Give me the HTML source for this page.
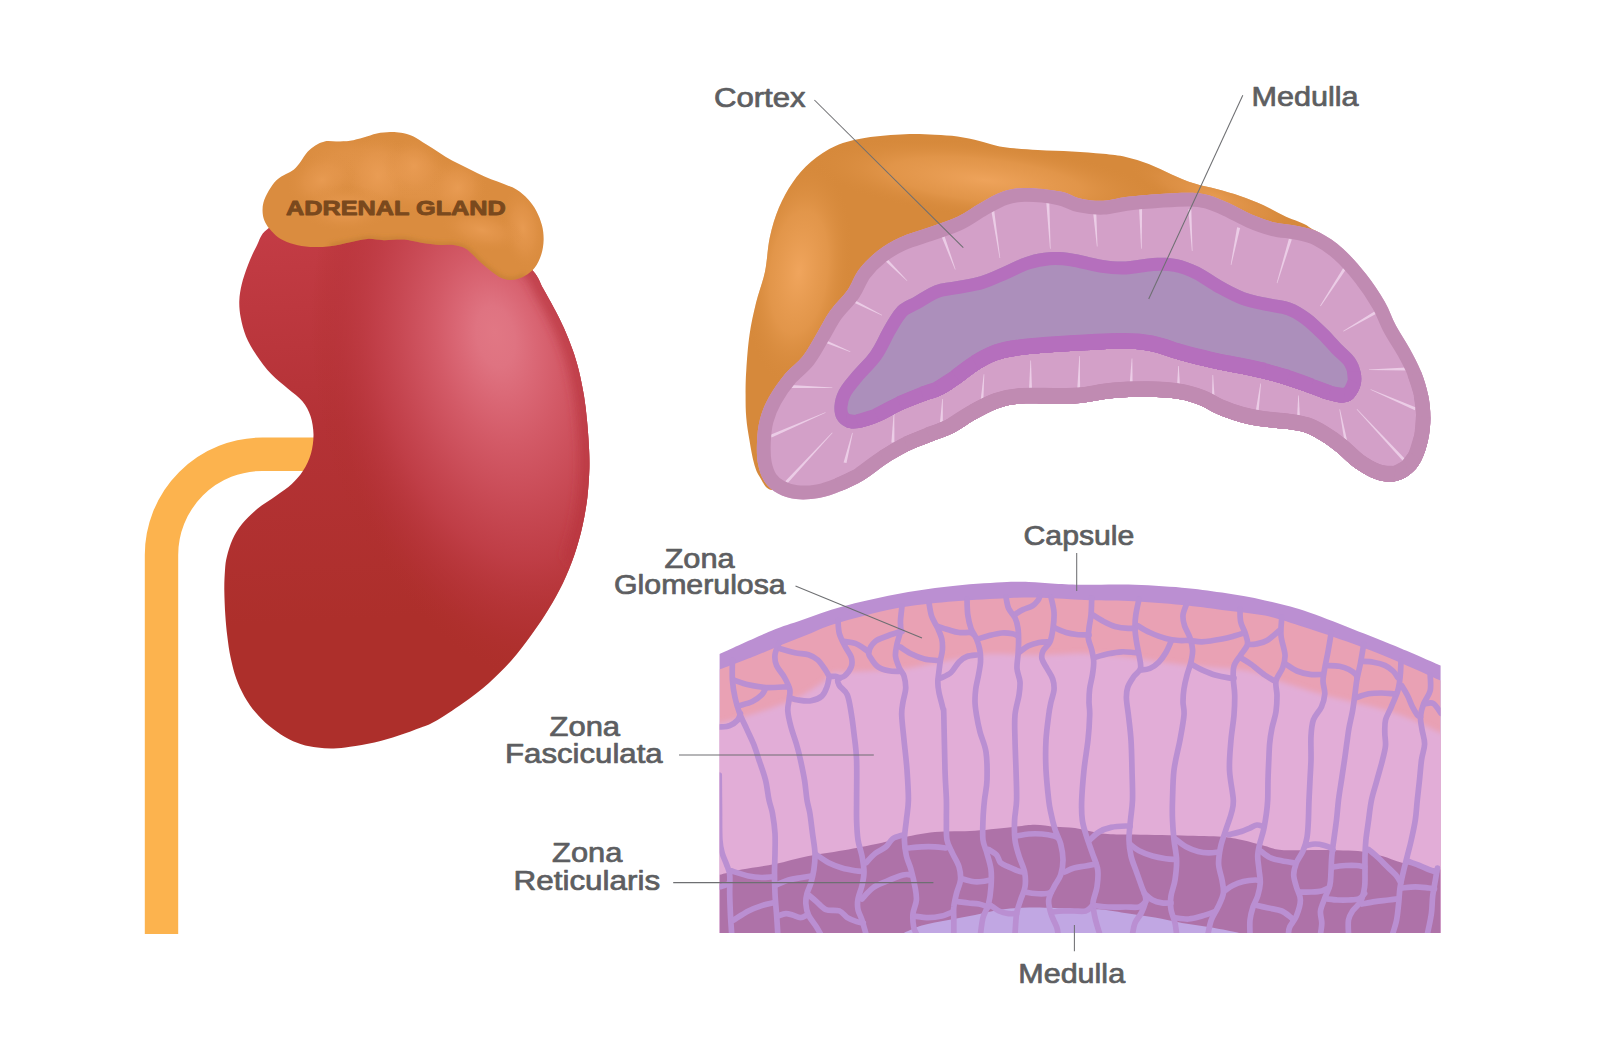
<!DOCTYPE html>
<html lang="en">
<head>
<meta charset="utf-8">
<title>Adrenal gland anatomy</title>
<style>
html,body{margin:0;padding:0;background:#ffffff;}
body{width:1600px;height:1048px;overflow:hidden;font-family:"Liberation Sans",sans-serif;}
svg{display:block;position:absolute;left:0;top:0;}
text{font-family:"Liberation Sans",sans-serif;}
</style>
</head>
<body>
<svg width="1600" height="1048" viewBox="0 0 1600 1048">
<defs>
<linearGradient id="kidBase" gradientUnits="userSpaceOnUse" x1="330" y1="225" x2="350" y2="620">
<stop offset="0" stop-color="#c33c45"/><stop offset="0.5" stop-color="#b43236"/><stop offset="1" stop-color="#ad2f2b"/>
</linearGradient>
<radialGradient id="kidHi" gradientUnits="userSpaceOnUse" cx="0" cy="0" r="1" fx="-0.17" fy="0" gradientTransform="translate(505.5 382) rotate(78) scale(305 188)">
<stop offset="0" stop-color="#e17784"/>
<stop offset="0.1" stop-color="#df7381"/>
<stop offset="0.2" stop-color="#da6775"/>
<stop offset="0.32" stop-color="#d35a67"/>
<stop offset="0.45" stop-color="#cc4f5b" stop-opacity="0.97"/>
<stop offset="0.65" stop-color="#c2404a" stop-opacity="0.85"/>
<stop offset="0.85" stop-color="#b7343a" stop-opacity="0.45"/>
<stop offset="1" stop-color="#ae2f2b" stop-opacity="0"/>
</radialGradient>
<radialGradient id="adrH0" gradientUnits="userSpaceOnUse" cx="0" cy="0" r="1" gradientTransform="translate(378 176) rotate(5) scale(34 44)"><stop offset="0" stop-color="#eb9e56" stop-opacity="0.8"/><stop offset="0.5" stop-color="#e6984f" stop-opacity="0.5"/><stop offset="1" stop-color="#db8d40" stop-opacity="0"/></radialGradient>
<radialGradient id="adrH1" gradientUnits="userSpaceOnUse" cx="0" cy="0" r="1" gradientTransform="translate(322 180) rotate(-20) scale(36 28)"><stop offset="0" stop-color="#eb9e56" stop-opacity="0.8"/><stop offset="0.5" stop-color="#e6984f" stop-opacity="0.5"/><stop offset="1" stop-color="#db8d40" stop-opacity="0"/></radialGradient>
<radialGradient id="adrH2" gradientUnits="userSpaceOnUse" cx="0" cy="0" r="1" gradientTransform="translate(458 188) rotate(25) scale(28 32)"><stop offset="0" stop-color="#eb9e56" stop-opacity="0.8"/><stop offset="0.5" stop-color="#e6984f" stop-opacity="0.5"/><stop offset="1" stop-color="#db8d40" stop-opacity="0"/></radialGradient>
<radialGradient id="adrH3" gradientUnits="userSpaceOnUse" cx="0" cy="0" r="1" gradientTransform="translate(523 228) rotate(-8) scale(22 42)"><stop offset="0" stop-color="#eb9e56" stop-opacity="0.8"/><stop offset="0.5" stop-color="#e6984f" stop-opacity="0.5"/><stop offset="1" stop-color="#db8d40" stop-opacity="0"/></radialGradient>
<radialGradient id="adrH4" gradientUnits="userSpaceOnUse" cx="0" cy="0" r="1" gradientTransform="translate(414 166) rotate(0) scale(30 30)"><stop offset="0" stop-color="#eb9e56" stop-opacity="0.8"/><stop offset="0.5" stop-color="#e6984f" stop-opacity="0.5"/><stop offset="1" stop-color="#db8d40" stop-opacity="0"/></radialGradient>
<radialGradient id="adrH5" gradientUnits="userSpaceOnUse" cx="0" cy="0" r="1" gradientTransform="translate(345 208) rotate(0) scale(46 24)"><stop offset="0" stop-color="#eb9e56" stop-opacity="0.8"/><stop offset="0.5" stop-color="#e6984f" stop-opacity="0.5"/><stop offset="1" stop-color="#db8d40" stop-opacity="0"/></radialGradient>
<radialGradient id="adrH6" gradientUnits="userSpaceOnUse" cx="0" cy="0" r="1" gradientTransform="translate(482 230) rotate(12) scale(42 20)"><stop offset="0" stop-color="#eb9e56" stop-opacity="0.8"/><stop offset="0.5" stop-color="#e6984f" stop-opacity="0.5"/><stop offset="1" stop-color="#db8d40" stop-opacity="0"/></radialGradient>
<radialGradient id="adrBroad" gradientUnits="userSpaceOnUse" cx="0" cy="0" r="1" gradientTransform="translate(392 174) rotate(13) scale(105 34)"><stop offset="0" stop-color="#ea9d55" stop-opacity="0.7"/><stop offset="0.6" stop-color="#e5974e" stop-opacity="0.45"/><stop offset="1" stop-color="#db8d40" stop-opacity="0"/></radialGradient>
<filter id="blur3" filterUnits="userSpaceOnUse" x="240" y="110" width="330" height="200"><feGaussianBlur stdDeviation="2.2"/></filter>
<filter id="blur6" filterUnits="userSpaceOnUse" x="200" y="180" width="420" height="600"><feGaussianBlur stdDeviation="5"/></filter>
<clipPath id="kidClip"><path d="M267.0 229.4C274.2 224.0 281.2 217.6 300.0 214.0C318.8 210.4 353.3 206.3 380.0 208.0C406.7 209.7 438.3 217.0 460.0 224.0C481.7 231.0 497.8 242.1 510.0 250.0C522.2 257.9 528.0 265.1 533.5 271.5C539.0 277.9 539.7 282.4 543.0 288.3C546.3 294.2 550.0 300.6 553.5 307.2C557.0 313.8 560.9 321.2 564.0 328.2C567.1 335.2 569.9 342.2 572.4 349.2C574.9 356.2 576.8 362.3 578.7 370.0C580.6 377.7 582.5 386.9 583.9 395.3C585.3 403.7 586.2 412.1 587.0 420.5C587.8 428.9 588.5 437.7 588.9 445.7C589.3 453.7 589.6 460.0 589.4 468.6C589.1 477.2 588.5 487.7 587.4 497.2C586.2 506.7 584.6 516.2 582.5 525.8C580.4 535.3 577.8 545.0 574.5 554.5C571.2 564.0 567.3 574.0 563.0 583.0C558.7 592.0 554.0 600.2 548.8 608.8C543.6 617.4 537.8 626.0 531.6 634.6C525.4 643.2 518.8 652.2 511.6 660.3C504.5 668.4 496.8 676.1 488.7 683.2C480.6 690.4 472.0 696.8 462.9 703.2C453.8 709.6 441.3 717.8 434.3 721.8C427.3 725.8 426.9 725.2 421.0 727.5C415.1 729.8 406.5 733.0 398.7 735.5C390.9 738.0 382.5 740.6 374.4 742.5C366.3 744.4 356.8 745.7 350.0 746.7C343.2 747.7 339.1 748.2 333.7 748.4C328.3 748.5 322.9 748.3 317.5 747.6C312.1 746.9 306.6 746.1 301.2 744.3C295.8 742.5 290.4 740.1 285.0 737.0C279.6 733.9 273.6 729.7 268.7 725.6C263.8 721.5 259.8 717.5 255.7 712.6C251.6 707.7 247.7 702.1 244.4 696.4C241.2 690.7 238.5 685.0 236.2 678.5C233.9 672.0 232.1 664.4 230.6 657.4C229.1 650.4 228.2 643.3 227.3 636.2C226.4 629.1 225.8 622.7 225.3 615.0C224.8 607.3 224.4 597.5 224.3 590.0C224.2 582.5 224.6 575.6 225.0 570.0C225.4 564.4 225.6 561.6 226.9 556.5C228.2 551.4 230.1 544.7 232.6 539.3C235.1 533.9 237.9 529.1 242.0 524.0C246.1 518.9 251.6 513.6 257.4 508.8C263.1 504.0 270.8 499.5 276.5 495.4C282.2 491.3 287.4 488.1 291.8 484.0C296.2 479.9 300.0 475.7 303.2 470.6C306.4 465.5 309.3 459.4 311.0 453.4C312.7 447.4 313.6 440.6 313.5 434.4C313.4 428.2 312.3 421.5 310.5 416.0C308.7 410.5 306.4 405.9 302.6 401.4C298.9 396.9 293.2 393.4 288.0 388.8C282.8 384.2 276.4 379.6 271.2 374.0C265.9 368.4 260.7 361.5 256.5 355.2C252.3 348.9 248.6 342.7 246.0 336.4C243.4 330.1 241.8 323.4 240.7 317.5C239.6 311.6 239.1 306.3 239.3 300.7C239.5 295.1 240.4 289.9 241.8 284.0C243.2 278.1 245.6 271.3 248.0 265.0C250.4 258.7 253.3 252.1 256.5 246.2C259.7 240.3 259.8 234.8 267.0 229.4Z"/></clipPath>
<clipPath id="adrClip"><path d="M390.2 132.0C386.2 132.1 381.3 132.5 376.9 133.4C372.4 134.3 367.9 136.2 363.5 137.4C359.1 138.6 354.6 140.0 350.2 140.7C345.8 141.4 341.0 141.3 336.8 141.4C332.6 141.5 328.4 140.7 324.8 141.4C321.2 142.1 318.3 143.6 315.4 145.4C312.5 147.2 309.8 149.3 307.4 152.0C305.0 154.7 303.0 158.5 300.8 161.4C298.6 164.3 296.5 167.3 294.0 169.4C291.5 171.5 288.9 172.2 286.0 174.0C283.1 175.8 279.6 177.2 276.7 180.0C273.8 182.8 270.9 187.0 268.7 190.8C266.5 194.6 264.4 199.0 263.4 202.8C262.4 206.6 262.4 210.2 262.7 213.5C263.0 216.8 263.9 219.9 265.4 222.8C266.8 225.7 268.8 228.2 271.4 230.9C273.9 233.6 276.9 236.7 280.7 238.9C284.5 241.1 289.1 242.9 294.0 244.2C298.9 245.5 304.0 246.6 310.0 246.9C316.0 247.2 323.3 247.0 330.0 246.2C336.7 245.4 343.9 243.4 350.2 242.2C356.4 241.0 361.9 239.2 367.5 238.9C373.1 238.6 378.2 240.1 383.6 240.2C389.0 240.3 395.9 239.5 400.0 239.5C404.1 239.5 403.9 239.4 408.0 240.0C412.1 240.6 418.9 242.5 424.3 243.3C429.7 244.1 435.7 244.7 440.6 245.0C445.5 245.3 449.4 244.5 453.5 245.0C457.6 245.5 461.8 246.6 465.0 248.2C468.2 249.8 470.3 252.3 473.0 254.7C475.7 257.1 478.0 260.1 481.0 262.8C484.0 265.5 487.4 268.3 490.9 270.9C494.4 273.5 498.4 276.7 502.2 278.2C506.0 279.7 509.8 280.2 513.6 279.8C517.4 279.4 521.5 277.8 525.0 275.8C528.5 273.8 532.0 271.2 534.7 267.7C537.4 264.2 539.7 259.3 541.2 254.7C542.7 250.1 543.5 244.9 543.6 240.0C543.7 235.1 543.2 230.3 542.0 225.5C540.8 220.7 538.6 215.2 536.3 210.9C534.0 206.6 531.5 203.0 528.2 199.5C525.0 196.0 520.8 192.4 516.8 189.8C512.8 187.2 508.2 185.8 503.9 184.0C499.6 182.2 495.3 180.9 491.0 179.2C486.7 177.4 482.3 175.5 478.0 173.5C473.7 171.5 469.3 169.2 465.0 167.0C460.7 164.8 456.3 163.0 452.0 160.6C447.7 158.2 443.3 155.2 439.0 152.5C434.7 149.8 430.3 147.0 426.0 144.3C421.7 141.6 417.2 138.1 413.0 136.2C408.8 134.3 404.8 133.5 401.0 132.8C397.2 132.1 394.2 131.9 390.2 132.0Z"/></clipPath>
</defs>
<path d="M161.5 934V555A100.8 100.8 0 0 1 262.3 454.2H330" fill="none" stroke="#fcb34e" stroke-width="33.4"/>
<path d="M267.0 229.4C274.2 224.0 281.2 217.6 300.0 214.0C318.8 210.4 353.3 206.3 380.0 208.0C406.7 209.7 438.3 217.0 460.0 224.0C481.7 231.0 497.8 242.1 510.0 250.0C522.2 257.9 528.0 265.1 533.5 271.5C539.0 277.9 539.7 282.4 543.0 288.3C546.3 294.2 550.0 300.6 553.5 307.2C557.0 313.8 560.9 321.2 564.0 328.2C567.1 335.2 569.9 342.2 572.4 349.2C574.9 356.2 576.8 362.3 578.7 370.0C580.6 377.7 582.5 386.9 583.9 395.3C585.3 403.7 586.2 412.1 587.0 420.5C587.8 428.9 588.5 437.7 588.9 445.7C589.3 453.7 589.6 460.0 589.4 468.6C589.1 477.2 588.5 487.7 587.4 497.2C586.2 506.7 584.6 516.2 582.5 525.8C580.4 535.3 577.8 545.0 574.5 554.5C571.2 564.0 567.3 574.0 563.0 583.0C558.7 592.0 554.0 600.2 548.8 608.8C543.6 617.4 537.8 626.0 531.6 634.6C525.4 643.2 518.8 652.2 511.6 660.3C504.5 668.4 496.8 676.1 488.7 683.2C480.6 690.4 472.0 696.8 462.9 703.2C453.8 709.6 441.3 717.8 434.3 721.8C427.3 725.8 426.9 725.2 421.0 727.5C415.1 729.8 406.5 733.0 398.7 735.5C390.9 738.0 382.5 740.6 374.4 742.5C366.3 744.4 356.8 745.7 350.0 746.7C343.2 747.7 339.1 748.2 333.7 748.4C328.3 748.5 322.9 748.3 317.5 747.6C312.1 746.9 306.6 746.1 301.2 744.3C295.8 742.5 290.4 740.1 285.0 737.0C279.6 733.9 273.6 729.7 268.7 725.6C263.8 721.5 259.8 717.5 255.7 712.6C251.6 707.7 247.7 702.1 244.4 696.4C241.2 690.7 238.5 685.0 236.2 678.5C233.9 672.0 232.1 664.4 230.6 657.4C229.1 650.4 228.2 643.3 227.3 636.2C226.4 629.1 225.8 622.7 225.3 615.0C224.8 607.3 224.4 597.5 224.3 590.0C224.2 582.5 224.6 575.6 225.0 570.0C225.4 564.4 225.6 561.6 226.9 556.5C228.2 551.4 230.1 544.7 232.6 539.3C235.1 533.9 237.9 529.1 242.0 524.0C246.1 518.9 251.6 513.6 257.4 508.8C263.1 504.0 270.8 499.5 276.5 495.4C282.2 491.3 287.4 488.1 291.8 484.0C296.2 479.9 300.0 475.7 303.2 470.6C306.4 465.5 309.3 459.4 311.0 453.4C312.7 447.4 313.6 440.6 313.5 434.4C313.4 428.2 312.3 421.5 310.5 416.0C308.7 410.5 306.4 405.9 302.6 401.4C298.9 396.9 293.2 393.4 288.0 388.8C282.8 384.2 276.4 379.6 271.2 374.0C265.9 368.4 260.7 361.5 256.5 355.2C252.3 348.9 248.6 342.7 246.0 336.4C243.4 330.1 241.8 323.4 240.7 317.5C239.6 311.6 239.1 306.3 239.3 300.7C239.5 295.1 240.4 289.9 241.8 284.0C243.2 278.1 245.6 271.3 248.0 265.0C250.4 258.7 253.3 252.1 256.5 246.2C259.7 240.3 259.8 234.8 267.0 229.4Z" fill="url(#kidBase)"/>
<g clip-path="url(#kidClip)"><rect x="200" y="180" width="420" height="600" fill="url(#kidHi)"/><path d="M510.0 250.0C513.9 253.6 528.0 265.1 533.5 271.5C539.0 277.9 539.7 282.4 543.0 288.3C546.3 294.2 550.0 300.6 553.5 307.2C557.0 313.8 560.9 321.2 564.0 328.2C567.1 335.2 569.9 342.2 572.4 349.2C574.9 356.2 576.8 362.3 578.7 370.0C580.6 377.7 582.5 386.9 583.9 395.3C585.3 403.7 586.2 412.1 587.0 420.5C587.8 428.9 588.5 437.7 588.9 445.7C589.3 453.7 589.6 460.0 589.4 468.6C589.1 477.2 588.5 487.7 587.4 497.2C586.2 506.7 584.6 516.2 582.5 525.8C580.4 535.3 575.8 549.7 574.5 554.5" fill="none" stroke="#b7343b" stroke-opacity="0.6" stroke-width="20" stroke-linecap="round" filter="url(#blur6)"/></g>
<path d="M390.2 132.0C386.2 132.1 381.3 132.5 376.9 133.4C372.4 134.3 367.9 136.2 363.5 137.4C359.1 138.6 354.6 140.0 350.2 140.7C345.8 141.4 341.0 141.3 336.8 141.4C332.6 141.5 328.4 140.7 324.8 141.4C321.2 142.1 318.3 143.6 315.4 145.4C312.5 147.2 309.8 149.3 307.4 152.0C305.0 154.7 303.0 158.5 300.8 161.4C298.6 164.3 296.5 167.3 294.0 169.4C291.5 171.5 288.9 172.2 286.0 174.0C283.1 175.8 279.6 177.2 276.7 180.0C273.8 182.8 270.9 187.0 268.7 190.8C266.5 194.6 264.4 199.0 263.4 202.8C262.4 206.6 262.4 210.2 262.7 213.5C263.0 216.8 263.9 219.9 265.4 222.8C266.8 225.7 268.8 228.2 271.4 230.9C273.9 233.6 276.9 236.7 280.7 238.9C284.5 241.1 289.1 242.9 294.0 244.2C298.9 245.5 304.0 246.6 310.0 246.9C316.0 247.2 323.3 247.0 330.0 246.2C336.7 245.4 343.9 243.4 350.2 242.2C356.4 241.0 361.9 239.2 367.5 238.9C373.1 238.6 378.2 240.1 383.6 240.2C389.0 240.3 395.9 239.5 400.0 239.5C404.1 239.5 403.9 239.4 408.0 240.0C412.1 240.6 418.9 242.5 424.3 243.3C429.7 244.1 435.7 244.7 440.6 245.0C445.5 245.3 449.4 244.5 453.5 245.0C457.6 245.5 461.8 246.6 465.0 248.2C468.2 249.8 470.3 252.3 473.0 254.7C475.7 257.1 478.0 260.1 481.0 262.8C484.0 265.5 487.4 268.3 490.9 270.9C494.4 273.5 498.4 276.7 502.2 278.2C506.0 279.7 509.8 280.2 513.6 279.8C517.4 279.4 521.5 277.8 525.0 275.8C528.5 273.8 532.0 271.2 534.7 267.7C537.4 264.2 539.7 259.3 541.2 254.7C542.7 250.1 543.5 244.9 543.6 240.0C543.7 235.1 543.2 230.3 542.0 225.5C540.8 220.7 538.6 215.2 536.3 210.9C534.0 206.6 531.5 203.0 528.2 199.5C525.0 196.0 520.8 192.4 516.8 189.8C512.8 187.2 508.2 185.8 503.9 184.0C499.6 182.2 495.3 180.9 491.0 179.2C486.7 177.4 482.3 175.5 478.0 173.5C473.7 171.5 469.3 169.2 465.0 167.0C460.7 164.8 456.3 163.0 452.0 160.6C447.7 158.2 443.3 155.2 439.0 152.5C434.7 149.8 430.3 147.0 426.0 144.3C421.7 141.6 417.2 138.1 413.0 136.2C408.8 134.3 404.8 133.5 401.0 132.8C397.2 132.1 394.2 131.9 390.2 132.0Z" fill="#da8c3f"/>
<g clip-path="url(#adrClip)"><rect x="240" y="110" width="320" height="190" fill="url(#adrBroad)"/><rect x="240" y="110" width="320" height="190" fill="url(#adrH0)"/><rect x="240" y="110" width="320" height="190" fill="url(#adrH1)"/><rect x="240" y="110" width="320" height="190" fill="url(#adrH2)"/><rect x="240" y="110" width="320" height="190" fill="url(#adrH3)"/><rect x="240" y="110" width="320" height="190" fill="url(#adrH4)"/><rect x="240" y="110" width="320" height="190" fill="url(#adrH5)"/><rect x="240" y="110" width="320" height="190" fill="url(#adrH6)"/><path d="M330.0 246.2C333.4 245.5 343.9 243.4 350.2 242.2C356.4 241.0 361.9 239.2 367.5 238.9C373.1 238.6 378.2 240.1 383.6 240.2C389.0 240.3 395.9 239.5 400.0 239.5C404.1 239.5 403.9 239.4 408.0 240.0C412.1 240.6 418.9 242.5 424.3 243.3C429.7 244.1 435.7 244.7 440.6 245.0C445.5 245.3 449.4 244.5 453.5 245.0C457.6 245.5 461.8 246.6 465.0 248.2C468.2 249.8 470.3 252.3 473.0 254.7C475.7 257.1 478.0 260.1 481.0 262.8C484.0 265.5 487.4 268.3 490.9 270.9C494.4 273.5 498.4 276.7 502.2 278.2C506.0 279.7 509.8 280.2 513.6 279.8C517.4 279.4 523.1 276.5 525.0 275.8" fill="none" stroke="#b9762f" stroke-opacity="0.55" stroke-width="5" filter="url(#blur3)"/></g>
<text x="285.9" y="215.1" font-size="20.6" font-weight="bold" fill="#7a491d" stroke="#7a491d" stroke-width="0.9" stroke-linejoin="round" textLength="220" lengthAdjust="spacingAndGlyphs">ADRENAL GLAND</text>
<defs>
<clipPath id="ctxClip"><path d="M757.0 442.0C757.3 434.5 758.0 426.5 760.0 419.0C762.0 411.5 764.8 404.5 769.0 397.0C773.2 389.5 779.3 380.8 785.0 374.0C790.7 367.2 797.8 362.7 803.0 356.0C808.2 349.3 812.0 341.5 816.5 334.0C821.0 326.5 824.8 318.3 830.0 311.0C835.2 303.7 842.8 296.9 847.6 290.0C852.4 283.1 854.0 276.0 859.0 269.5C864.0 263.0 870.6 256.4 877.4 251.0C884.2 245.7 891.2 241.4 900.0 237.4C908.8 233.4 920.4 230.4 930.0 227.0C939.6 223.6 949.1 220.8 957.5 216.8C965.9 212.8 972.8 207.2 980.4 203.0C988.0 198.8 995.4 194.1 1003.0 191.6C1010.6 189.1 1016.4 188.0 1026.0 188.0C1035.6 188.0 1051.6 189.8 1060.6 191.6C1069.6 193.3 1072.9 197.0 1080.0 198.5C1087.1 200.0 1095.4 201.1 1103.0 200.8C1110.6 200.6 1116.3 198.1 1125.8 197.0C1135.3 195.9 1149.3 194.7 1160.0 194.0C1170.7 193.3 1182.0 192.5 1190.0 192.7C1198.0 192.9 1201.5 193.3 1208.0 195.0C1214.5 196.7 1221.5 199.8 1228.8 203.0C1236.1 206.2 1244.1 211.2 1251.7 214.5C1259.3 217.8 1267.0 220.6 1274.6 222.5C1282.2 224.4 1289.9 224.3 1297.5 226.0C1305.1 227.7 1312.4 229.0 1320.0 232.8C1327.6 236.6 1335.3 241.9 1343.0 248.8C1350.7 255.7 1359.1 265.2 1366.0 274.0C1372.9 282.8 1379.6 292.9 1384.6 301.5C1389.6 310.1 1391.8 317.9 1396.0 325.8C1400.2 333.7 1405.5 341.1 1409.7 348.7C1413.9 356.3 1418.0 364.0 1421.0 371.6C1424.0 379.2 1426.4 386.9 1428.0 394.5C1429.6 402.1 1430.4 409.8 1430.4 417.4C1430.4 425.0 1429.6 433.0 1428.0 440.3C1426.4 447.6 1424.0 455.3 1421.0 461.0C1418.0 466.7 1414.2 471.2 1409.7 474.6C1405.2 478.0 1399.4 480.8 1393.7 481.5C1388.0 482.2 1381.9 481.3 1375.4 479.0C1368.9 476.7 1361.3 472.4 1354.8 467.8C1348.3 463.2 1342.2 456.3 1336.5 451.7C1330.8 447.1 1325.8 443.5 1320.4 440.3C1315.1 437.1 1310.1 434.2 1304.4 432.3C1298.7 430.4 1292.9 429.8 1286.0 428.8C1279.1 427.9 1270.7 427.7 1263.0 426.6C1255.3 425.5 1247.6 424.1 1240.0 422.0C1232.4 419.9 1224.2 416.9 1217.4 414.0C1210.6 411.1 1205.5 407.3 1199.0 404.8C1192.5 402.3 1186.9 400.3 1178.5 399.0C1170.1 397.7 1159.5 397.0 1148.7 396.8C1138.0 396.6 1125.5 397.0 1114.0 398.0C1102.5 399.0 1089.8 402.1 1080.0 403.0C1070.2 403.9 1064.8 403.4 1055.0 403.5C1045.2 403.6 1030.4 402.8 1021.0 403.5C1011.6 404.2 1006.3 405.4 998.8 408.0C991.3 410.6 983.5 414.9 976.0 419.0C968.5 423.1 961.3 429.0 953.8 432.8C946.3 436.6 938.5 438.8 931.0 441.8C923.5 444.8 916.3 447.1 908.8 450.8C901.3 454.5 893.5 459.1 886.0 464.0C878.5 468.9 871.3 475.5 863.8 480.0C856.3 484.5 848.5 488.0 841.0 491.0C833.5 494.0 826.3 496.7 818.8 498.0C811.3 499.3 802.8 499.8 796.0 499.0C789.2 498.2 783.2 496.3 778.0 493.5C772.8 490.7 768.1 486.9 764.8 482.0C761.5 477.1 759.3 470.7 758.0 464.0C756.7 457.3 756.7 449.5 757.0 442.0Z"/></clipPath>
<clipPath id="medClip"><path d="M834.5 405.8C834.9 401.0 836.0 395.6 839.0 390.0C842.0 384.4 847.2 378.4 852.5 372.0C857.8 365.6 865.2 359.3 870.5 351.8C875.8 344.3 879.5 334.5 884.0 327.0C888.5 319.5 892.5 311.8 897.5 306.8C902.5 301.8 907.8 300.6 914.0 297.0C920.2 293.4 927.4 288.2 934.6 285.5C941.9 282.8 949.9 282.5 957.5 281.0C965.1 279.5 972.8 278.6 980.4 276.3C988.0 274.0 995.4 270.2 1003.0 267.0C1010.6 263.8 1018.3 259.3 1026.0 256.9C1033.7 254.4 1041.3 252.9 1049.0 252.3C1056.7 251.7 1063.0 252.1 1072.0 253.4C1081.0 254.7 1094.0 258.7 1103.0 260.0C1112.0 261.3 1117.5 261.7 1125.8 261.4C1134.1 261.1 1144.6 258.4 1153.0 258.0C1161.4 257.6 1168.3 257.5 1176.0 259.0C1183.7 260.5 1191.3 263.3 1199.0 267.0C1206.7 270.7 1214.3 276.8 1222.0 281.0C1229.7 285.2 1237.4 289.6 1245.0 292.4C1252.6 295.2 1260.2 296.3 1267.8 298.0C1275.4 299.7 1283.8 300.2 1290.7 302.7C1297.6 305.2 1303.0 308.6 1309.0 313.0C1315.0 317.4 1321.7 323.8 1327.0 329.0C1332.3 334.2 1336.4 339.2 1341.0 344.0C1345.6 348.8 1351.5 353.3 1354.8 357.9C1358.0 362.5 1359.5 367.0 1360.5 371.6C1361.5 376.2 1361.7 380.9 1360.5 385.3C1359.3 389.7 1356.5 395.1 1353.6 398.0C1350.7 400.9 1347.4 402.2 1343.0 402.5C1338.6 402.8 1332.7 401.1 1327.0 399.5C1321.3 397.9 1315.8 395.4 1309.0 393.0C1302.2 390.6 1293.7 387.4 1286.0 385.0C1278.3 382.6 1270.7 380.4 1263.0 378.5C1255.3 376.6 1248.8 375.3 1240.0 373.5C1231.2 371.7 1220.0 369.8 1210.0 367.5C1200.0 365.2 1190.0 362.8 1180.0 360.0C1170.0 357.2 1160.0 352.9 1150.0 351.0C1140.0 349.1 1135.0 348.6 1120.0 348.8C1105.0 348.9 1076.5 350.7 1060.0 351.8C1043.5 352.8 1031.2 353.7 1021.0 355.0C1010.8 356.3 1005.9 357.1 998.8 359.6C991.7 362.1 984.9 365.9 978.5 369.8C972.1 373.7 966.5 378.9 960.5 383.0C954.5 387.1 948.5 391.5 942.5 394.5C936.5 397.5 931.2 398.4 924.5 401.0C917.8 403.6 909.5 406.6 902.0 410.0C894.5 413.4 886.7 418.5 879.5 421.5C872.3 424.5 864.6 427.1 859.0 428.0C853.4 428.9 849.5 428.5 845.8 427.0C842.1 425.5 838.7 422.5 836.8 419.0C834.9 415.5 834.1 410.6 834.5 405.8Z"/></clipPath>
<clipPath id="orgClip"><path d="M759.8 477.0C756.8 472.6 755.7 469.4 754.0 463.3C752.3 457.2 750.8 447.9 749.5 440.4C748.2 432.8 746.9 425.6 746.3 418.0C745.6 410.4 745.6 403.0 745.6 395.0C745.6 387.0 745.6 380.0 746.3 370.0C746.9 360.0 747.9 346.2 749.5 335.0C751.1 323.8 753.4 313.6 756.0 303.0C758.6 292.4 762.7 282.6 765.0 271.7C767.3 260.8 767.5 248.1 769.8 237.4C772.1 226.7 775.2 216.8 779.0 207.6C782.8 198.4 787.4 190.0 792.7 182.4C798.0 174.8 803.8 167.9 811.0 161.8C818.2 155.7 826.8 149.8 836.0 145.8C845.2 141.8 854.5 139.7 866.0 137.8C877.5 135.9 893.6 134.8 905.0 134.3C916.4 133.8 925.9 134.4 934.6 134.8C943.4 135.2 949.9 135.5 957.5 136.6C965.1 137.7 972.8 139.5 980.4 141.2C988.0 142.9 993.5 145.5 1003.0 147.0C1012.5 148.5 1026.2 149.2 1037.7 150.0C1049.2 150.8 1061.1 150.9 1072.0 151.5C1082.9 152.1 1094.0 152.9 1103.0 153.8C1112.0 154.7 1118.2 155.3 1125.8 157.0C1133.4 158.7 1141.1 161.1 1148.7 164.0C1156.3 166.9 1164.0 171.1 1171.6 174.4C1179.2 177.7 1186.9 181.1 1194.5 183.6C1202.1 186.1 1209.8 187.2 1217.4 189.3C1225.0 191.4 1232.4 193.4 1240.0 196.0C1247.6 198.6 1255.3 201.5 1263.0 205.0C1270.7 208.5 1278.3 213.1 1286.0 216.8C1293.7 220.5 1303.3 222.3 1309.0 227.0C1314.7 231.7 1329.8 232.8 1320.0 245.0C1310.2 257.2 1303.3 287.5 1250.0 300.0C1196.7 312.5 1066.7 298.3 1000.0 320.0C933.3 341.7 883.3 403.7 850.0 430.0C816.7 456.3 813.0 468.0 800.0 478.0C787.0 488.0 778.7 490.2 772.0 490.0C765.3 489.8 762.8 481.4 759.8 477.0Z"/></clipPath>
<radialGradient id="orgHi1" gradientUnits="userSpaceOnUse" cx="0" cy="0" r="1" gradientTransform="translate(799 272) rotate(97) scale(112 52)">
<stop offset="0" stop-color="#f0a55d"/><stop offset="0.55" stop-color="#e69a4f" stop-opacity="0.75"/><stop offset="1" stop-color="#d78a3c" stop-opacity="0"/>
</radialGradient>
<radialGradient id="orgHi2" gradientUnits="userSpaceOnUse" cx="0" cy="0" r="1" gradientTransform="translate(985 180) rotate(6) scale(175 38)">
<stop offset="0" stop-color="#eea35b"/><stop offset="0.55" stop-color="#e69a4f" stop-opacity="0.7"/><stop offset="1" stop-color="#d78a3c" stop-opacity="0"/>
</radialGradient>
<radialGradient id="orgHi3" gradientUnits="userSpaceOnUse" cx="0" cy="0" r="1" gradientTransform="translate(1215 196) rotate(20) scale(90 22)">
<stop offset="0" stop-color="#e89c52" stop-opacity="0.9"/><stop offset="0.6" stop-color="#e1944a" stop-opacity="0.5"/><stop offset="1" stop-color="#d78a3c" stop-opacity="0"/>
</radialGradient>
</defs>
<path d="M759.8 477.0C756.8 472.6 755.7 469.4 754.0 463.3C752.3 457.2 750.8 447.9 749.5 440.4C748.2 432.8 746.9 425.6 746.3 418.0C745.6 410.4 745.6 403.0 745.6 395.0C745.6 387.0 745.6 380.0 746.3 370.0C746.9 360.0 747.9 346.2 749.5 335.0C751.1 323.8 753.4 313.6 756.0 303.0C758.6 292.4 762.7 282.6 765.0 271.7C767.3 260.8 767.5 248.1 769.8 237.4C772.1 226.7 775.2 216.8 779.0 207.6C782.8 198.4 787.4 190.0 792.7 182.4C798.0 174.8 803.8 167.9 811.0 161.8C818.2 155.7 826.8 149.8 836.0 145.8C845.2 141.8 854.5 139.7 866.0 137.8C877.5 135.9 893.6 134.8 905.0 134.3C916.4 133.8 925.9 134.4 934.6 134.8C943.4 135.2 949.9 135.5 957.5 136.6C965.1 137.7 972.8 139.5 980.4 141.2C988.0 142.9 993.5 145.5 1003.0 147.0C1012.5 148.5 1026.2 149.2 1037.7 150.0C1049.2 150.8 1061.1 150.9 1072.0 151.5C1082.9 152.1 1094.0 152.9 1103.0 153.8C1112.0 154.7 1118.2 155.3 1125.8 157.0C1133.4 158.7 1141.1 161.1 1148.7 164.0C1156.3 166.9 1164.0 171.1 1171.6 174.4C1179.2 177.7 1186.9 181.1 1194.5 183.6C1202.1 186.1 1209.8 187.2 1217.4 189.3C1225.0 191.4 1232.4 193.4 1240.0 196.0C1247.6 198.6 1255.3 201.5 1263.0 205.0C1270.7 208.5 1278.3 213.1 1286.0 216.8C1293.7 220.5 1303.3 222.3 1309.0 227.0C1314.7 231.7 1329.8 232.8 1320.0 245.0C1310.2 257.2 1303.3 287.5 1250.0 300.0C1196.7 312.5 1066.7 298.3 1000.0 320.0C933.3 341.7 883.3 403.7 850.0 430.0C816.7 456.3 813.0 468.0 800.0 478.0C787.0 488.0 778.7 490.2 772.0 490.0C765.3 489.8 762.8 481.4 759.8 477.0Z" fill="#d6893b"/>
<g clip-path="url(#orgClip)"><rect x="730" y="120" width="620" height="380" fill="url(#orgHi1)"/><rect x="730" y="120" width="620" height="380" fill="url(#orgHi2)"/><rect x="730" y="120" width="620" height="380" fill="url(#orgHi3)"/></g>
<path d="M757.0 442.0C757.3 434.5 758.0 426.5 760.0 419.0C762.0 411.5 764.8 404.5 769.0 397.0C773.2 389.5 779.3 380.8 785.0 374.0C790.7 367.2 797.8 362.7 803.0 356.0C808.2 349.3 812.0 341.5 816.5 334.0C821.0 326.5 824.8 318.3 830.0 311.0C835.2 303.7 842.8 296.9 847.6 290.0C852.4 283.1 854.0 276.0 859.0 269.5C864.0 263.0 870.6 256.4 877.4 251.0C884.2 245.7 891.2 241.4 900.0 237.4C908.8 233.4 920.4 230.4 930.0 227.0C939.6 223.6 949.1 220.8 957.5 216.8C965.9 212.8 972.8 207.2 980.4 203.0C988.0 198.8 995.4 194.1 1003.0 191.6C1010.6 189.1 1016.4 188.0 1026.0 188.0C1035.6 188.0 1051.6 189.8 1060.6 191.6C1069.6 193.3 1072.9 197.0 1080.0 198.5C1087.1 200.0 1095.4 201.1 1103.0 200.8C1110.6 200.6 1116.3 198.1 1125.8 197.0C1135.3 195.9 1149.3 194.7 1160.0 194.0C1170.7 193.3 1182.0 192.5 1190.0 192.7C1198.0 192.9 1201.5 193.3 1208.0 195.0C1214.5 196.7 1221.5 199.8 1228.8 203.0C1236.1 206.2 1244.1 211.2 1251.7 214.5C1259.3 217.8 1267.0 220.6 1274.6 222.5C1282.2 224.4 1289.9 224.3 1297.5 226.0C1305.1 227.7 1312.4 229.0 1320.0 232.8C1327.6 236.6 1335.3 241.9 1343.0 248.8C1350.7 255.7 1359.1 265.2 1366.0 274.0C1372.9 282.8 1379.6 292.9 1384.6 301.5C1389.6 310.1 1391.8 317.9 1396.0 325.8C1400.2 333.7 1405.5 341.1 1409.7 348.7C1413.9 356.3 1418.0 364.0 1421.0 371.6C1424.0 379.2 1426.4 386.9 1428.0 394.5C1429.6 402.1 1430.4 409.8 1430.4 417.4C1430.4 425.0 1429.6 433.0 1428.0 440.3C1426.4 447.6 1424.0 455.3 1421.0 461.0C1418.0 466.7 1414.2 471.2 1409.7 474.6C1405.2 478.0 1399.4 480.8 1393.7 481.5C1388.0 482.2 1381.9 481.3 1375.4 479.0C1368.9 476.7 1361.3 472.4 1354.8 467.8C1348.3 463.2 1342.2 456.3 1336.5 451.7C1330.8 447.1 1325.8 443.5 1320.4 440.3C1315.1 437.1 1310.1 434.2 1304.4 432.3C1298.7 430.4 1292.9 429.8 1286.0 428.8C1279.1 427.9 1270.7 427.7 1263.0 426.6C1255.3 425.5 1247.6 424.1 1240.0 422.0C1232.4 419.9 1224.2 416.9 1217.4 414.0C1210.6 411.1 1205.5 407.3 1199.0 404.8C1192.5 402.3 1186.9 400.3 1178.5 399.0C1170.1 397.7 1159.5 397.0 1148.7 396.8C1138.0 396.6 1125.5 397.0 1114.0 398.0C1102.5 399.0 1089.8 402.1 1080.0 403.0C1070.2 403.9 1064.8 403.4 1055.0 403.5C1045.2 403.6 1030.4 402.8 1021.0 403.5C1011.6 404.2 1006.3 405.4 998.8 408.0C991.3 410.6 983.5 414.9 976.0 419.0C968.5 423.1 961.3 429.0 953.8 432.8C946.3 436.6 938.5 438.8 931.0 441.8C923.5 444.8 916.3 447.1 908.8 450.8C901.3 454.5 893.5 459.1 886.0 464.0C878.5 468.9 871.3 475.5 863.8 480.0C856.3 484.5 848.5 488.0 841.0 491.0C833.5 494.0 826.3 496.7 818.8 498.0C811.3 499.3 802.8 499.8 796.0 499.0C789.2 498.2 783.2 496.3 778.0 493.5C772.8 490.7 768.1 486.9 764.8 482.0C761.5 477.1 759.3 470.7 758.0 464.0C756.7 457.3 756.7 449.5 757.0 442.0Z" fill="#d3a0c8"/>
<g fill="#ebcce6" clip-path="url(#ctxClip)">
<path d="M991.1 209.5L999.6 258.0L1000.2 258.0L994.0 209.0Z"/>
<path d="M1046.3 202.4L1050.0 248.8L1050.6 248.8L1049.3 202.2Z"/>
<path d="M1093.3 213.9L1096.9 246.6L1097.5 246.6L1096.3 213.7Z"/>
<path d="M941.4 236.2L955.0 269.6L955.6 269.4L944.2 235.2Z"/>
<path d="M883.4 259.2L907.0 281.1L907.4 280.7L885.5 257.1Z"/>
<path d="M846.6 299.2L881.9 315.6L882.1 315.0L848.0 296.5Z"/>
<path d="M820.0 340.7L850.2 352.1L850.4 351.5L821.1 338.0Z"/>
<path d="M791.0 388.0L832.3 388.1L832.3 387.5L791.0 385.0Z"/>
<path d="M771.6 437.6L825.6 412.8L825.4 412.2L770.5 434.8Z"/>
<path d="M787.5 483.2L832.5 433.0L832.1 432.6L785.3 481.2Z"/>
<path d="M846.5 463.1L852.8 432.9L852.2 432.7L843.6 462.4Z"/>
<path d="M894.4 442.6L894.3 412.5L893.7 412.5L891.4 442.4Z"/>
<path d="M942.8 424.6L942.8 399.0L942.2 399.0L939.8 424.4Z"/>
<path d="M983.2 404.4L984.3 374.3L983.7 374.3L980.2 404.2Z"/>
<path d="M1032.0 390.5L1031.0 360.5L1030.4 360.5L1029.0 390.5Z"/>
<path d="M1080.1 391.2L1079.9 356.0L1079.3 356.0L1077.1 391.2Z"/>
<path d="M1132.6 384.8L1132.3 358.5L1131.7 358.5L1129.6 384.7Z"/>
<path d="M1180.0 387.0L1178.8 366.0L1178.2 366.0L1177.0 387.0Z"/>
<path d="M1214.9 402.0L1213.1 375.0L1212.5 375.0L1211.9 402.0Z"/>
<path d="M1258.4 413.4L1261.0 383.5L1260.4 383.5L1255.4 413.0Z"/>
<path d="M1300.0 419.2L1298.8 395.6L1298.2 395.6L1297.0 419.2Z"/>
<path d="M1347.7 442.9L1340.0 409.2L1339.4 409.4L1344.8 443.4Z"/>
<path d="M1406.3 460.2L1357.1 409.1L1356.7 409.5L1404.1 462.2Z"/>
<path d="M1416.0 407.4L1370.7 389.2L1370.5 389.8L1414.9 410.2Z"/>
<path d="M1406.2 367.4L1369.0 369.5L1369.0 370.1L1406.2 370.4Z"/>
<path d="M1374.8 311.2L1343.1 331.0L1343.5 331.6L1376.3 313.8Z"/>
<path d="M1343.7 267.3L1320.1 305.8L1320.7 306.2L1346.2 268.9Z"/>
<path d="M1288.9 238.7L1276.7 283.1L1277.3 283.3L1291.8 239.6Z"/>
<path d="M1237.1 227.3L1230.7 264.8L1231.3 265.0L1240.1 227.9Z"/>
<path d="M1188.3 209.3L1191.9 251.0L1192.5 251.0L1191.3 209.1Z"/>
<path d="M1139.1 208.0L1141.1 248.8L1141.7 248.8L1142.1 208.0Z"/>
</g>
<g clip-path="url(#ctxClip)" fill="none" stroke="#c08bb2">
<path d="M757.0 442.0C757.3 434.5 758.0 426.5 760.0 419.0C762.0 411.5 764.8 404.5 769.0 397.0C773.2 389.5 779.3 380.8 785.0 374.0C790.7 367.2 797.8 362.7 803.0 356.0C808.2 349.3 812.0 341.5 816.5 334.0C821.0 326.5 824.8 318.3 830.0 311.0C835.2 303.7 842.8 296.9 847.6 290.0C852.4 283.1 854.0 276.0 859.0 269.5C864.0 263.0 870.6 256.4 877.4 251.0C884.2 245.7 891.2 241.4 900.0 237.4C908.8 233.4 920.4 230.4 930.0 227.0C939.6 223.6 949.1 220.8 957.5 216.8C965.9 212.8 972.8 207.2 980.4 203.0C988.0 198.8 995.4 194.1 1003.0 191.6C1010.6 189.1 1016.4 188.0 1026.0 188.0C1035.6 188.0 1051.6 189.8 1060.6 191.6C1069.6 193.3 1072.9 197.0 1080.0 198.5C1087.1 200.0 1095.4 201.1 1103.0 200.8C1110.6 200.6 1116.3 198.1 1125.8 197.0C1135.3 195.9 1149.3 194.7 1160.0 194.0C1170.7 193.3 1182.0 192.5 1190.0 192.7C1198.0 192.9 1201.5 193.3 1208.0 195.0C1214.5 196.7 1221.5 199.8 1228.8 203.0C1236.1 206.2 1244.1 211.2 1251.7 214.5C1259.3 217.8 1267.0 220.6 1274.6 222.5C1282.2 224.4 1289.9 224.3 1297.5 226.0C1305.1 227.7 1312.4 229.0 1320.0 232.8C1327.6 236.6 1335.3 241.9 1343.0 248.8C1350.7 255.7 1359.1 265.2 1366.0 274.0C1372.9 282.8 1379.6 292.9 1384.6 301.5C1389.6 310.1 1391.8 317.9 1396.0 325.8C1400.2 333.7 1405.5 341.1 1409.7 348.7C1413.9 356.3 1418.0 364.0 1421.0 371.6C1424.0 379.2 1426.4 386.9 1428.0 394.5C1429.6 402.1 1430.4 409.8 1430.4 417.4C1430.4 425.0 1429.6 433.0 1428.0 440.3C1426.4 447.6 1424.0 455.3 1421.0 461.0C1418.0 466.7 1414.2 471.2 1409.7 474.6C1405.2 478.0 1399.4 480.8 1393.7 481.5C1388.0 482.2 1381.9 481.3 1375.4 479.0C1368.9 476.7 1361.3 472.4 1354.8 467.8C1348.3 463.2 1342.2 456.3 1336.5 451.7C1330.8 447.1 1325.8 443.5 1320.4 440.3C1315.1 437.1 1310.1 434.2 1304.4 432.3C1298.7 430.4 1292.9 429.8 1286.0 428.8C1279.1 427.9 1270.7 427.7 1263.0 426.6C1255.3 425.5 1247.6 424.1 1240.0 422.0C1232.4 419.9 1224.2 416.9 1217.4 414.0C1210.6 411.1 1205.5 407.3 1199.0 404.8C1192.5 402.3 1186.9 400.3 1178.5 399.0C1170.1 397.7 1159.5 397.0 1148.7 396.8C1138.0 396.6 1125.5 397.0 1114.0 398.0C1102.5 399.0 1089.8 402.1 1080.0 403.0C1070.2 403.9 1064.8 403.4 1055.0 403.5C1045.2 403.6 1030.4 402.8 1021.0 403.5C1011.6 404.2 1006.3 405.4 998.8 408.0C991.3 410.6 983.5 414.9 976.0 419.0C968.5 423.1 961.3 429.0 953.8 432.8C946.3 436.6 938.5 438.8 931.0 441.8C923.5 444.8 916.3 447.1 908.8 450.8C901.3 454.5 893.5 459.1 886.0 464.0C878.5 468.9 871.3 475.5 863.8 480.0C856.3 484.5 848.5 488.0 841.0 491.0C833.5 494.0 826.3 496.7 818.8 498.0C811.3 499.3 802.8 499.8 796.0 499.0C789.2 498.2 783.2 496.3 778.0 493.5C772.8 490.7 768.1 486.9 764.8 482.0C761.5 477.1 759.3 470.7 758.0 464.0C756.7 457.3 756.7 449.5 757.0 442.0Z" stroke-width="27.6"/>
<path d="M1421.0 371.6C1422.2 375.4 1426.4 386.9 1428.0 394.5C1429.6 402.1 1430.4 409.8 1430.4 417.4C1430.4 425.0 1429.6 433.0 1428.0 440.3C1426.4 447.6 1424.0 455.3 1421.0 461.0C1418.0 466.7 1414.2 471.2 1409.7 474.6C1405.2 478.0 1399.4 480.8 1393.7 481.5C1388.0 482.2 1381.9 481.3 1375.4 479.0C1368.9 476.7 1361.3 472.4 1354.8 467.8C1348.3 463.2 1342.2 456.3 1336.5 451.7C1330.8 447.1 1325.8 443.5 1320.4 440.3C1315.1 437.1 1310.1 434.2 1304.4 432.3C1298.7 430.4 1292.9 429.8 1286.0 428.8C1279.1 427.9 1270.7 427.7 1263.0 426.6C1255.3 425.5 1247.6 424.1 1240.0 422.0C1232.4 419.9 1224.2 416.9 1217.4 414.0C1210.6 411.1 1205.5 407.3 1199.0 404.8C1192.5 402.3 1186.9 400.3 1178.5 399.0C1170.1 397.7 1159.5 397.0 1148.7 396.8C1138.0 396.6 1125.5 397.0 1114.0 398.0C1102.5 399.0 1089.8 402.1 1080.0 403.0C1070.2 403.9 1064.8 403.4 1055.0 403.5C1045.2 403.6 1030.4 402.8 1021.0 403.5C1011.6 404.2 1006.3 405.4 998.8 408.0C991.3 410.6 983.5 414.9 976.0 419.0C968.5 423.1 961.3 429.0 953.8 432.8C946.3 436.6 938.5 438.8 931.0 441.8C923.5 444.8 916.3 447.1 908.8 450.8C901.3 454.5 893.5 459.1 886.0 464.0C878.5 468.9 871.3 475.5 863.8 480.0C856.3 484.5 844.8 489.2 841.0 491.0" stroke-width="28.09"/>
<path d="M1428.0 394.5C1428.4 398.3 1430.4 409.8 1430.4 417.4C1430.4 425.0 1429.6 433.0 1428.0 440.3C1426.4 447.6 1424.0 455.3 1421.0 461.0C1418.0 466.7 1414.2 471.2 1409.7 474.6C1405.2 478.0 1399.4 480.8 1393.7 481.5C1388.0 482.2 1381.9 481.3 1375.4 479.0C1368.9 476.7 1361.3 472.4 1354.8 467.8C1348.3 463.2 1342.2 456.3 1336.5 451.7C1330.8 447.1 1325.8 443.5 1320.4 440.3C1315.1 437.1 1310.1 434.2 1304.4 432.3C1298.7 430.4 1292.9 429.8 1286.0 428.8C1279.1 427.9 1270.7 427.7 1263.0 426.6C1255.3 425.5 1247.6 424.1 1240.0 422.0C1232.4 419.9 1224.2 416.9 1217.4 414.0C1210.6 411.1 1205.5 407.3 1199.0 404.8C1192.5 402.3 1186.9 400.3 1178.5 399.0C1170.1 397.7 1159.5 397.0 1148.7 396.8C1138.0 396.6 1125.5 397.0 1114.0 398.0C1102.5 399.0 1089.8 402.1 1080.0 403.0C1070.2 403.9 1064.8 403.4 1055.0 403.5C1045.2 403.6 1030.4 402.8 1021.0 403.5C1011.6 404.2 1006.3 405.4 998.8 408.0C991.3 410.6 983.5 414.9 976.0 419.0C968.5 423.1 961.3 429.0 953.8 432.8C946.3 436.6 938.5 438.8 931.0 441.8C923.5 444.8 916.3 447.1 908.8 450.8C901.3 454.5 893.5 459.1 886.0 464.0C878.5 468.9 867.5 477.3 863.8 480.0" stroke-width="28.57"/>
<path d="M1430.4 417.4C1430.0 421.2 1429.6 433.0 1428.0 440.3C1426.4 447.6 1424.0 455.3 1421.0 461.0C1418.0 466.7 1414.2 471.2 1409.7 474.6C1405.2 478.0 1399.4 480.8 1393.7 481.5C1388.0 482.2 1381.9 481.3 1375.4 479.0C1368.9 476.7 1361.3 472.4 1354.8 467.8C1348.3 463.2 1342.2 456.3 1336.5 451.7C1330.8 447.1 1325.8 443.5 1320.4 440.3C1315.1 437.1 1310.1 434.2 1304.4 432.3C1298.7 430.4 1292.9 429.8 1286.0 428.8C1279.1 427.9 1270.7 427.7 1263.0 426.6C1255.3 425.5 1247.6 424.1 1240.0 422.0C1232.4 419.9 1224.2 416.9 1217.4 414.0C1210.6 411.1 1205.5 407.3 1199.0 404.8C1192.5 402.3 1186.9 400.3 1178.5 399.0C1170.1 397.7 1159.5 397.0 1148.7 396.8C1138.0 396.6 1125.5 397.0 1114.0 398.0C1102.5 399.0 1089.8 402.1 1080.0 403.0C1070.2 403.9 1064.8 403.4 1055.0 403.5C1045.2 403.6 1030.4 402.8 1021.0 403.5C1011.6 404.2 1006.3 405.4 998.8 408.0C991.3 410.6 983.5 414.9 976.0 419.0C968.5 423.1 961.3 429.0 953.8 432.8C946.3 436.6 938.5 438.8 931.0 441.8C923.5 444.8 916.3 447.1 908.8 450.8C901.3 454.5 889.8 461.8 886.0 464.0" stroke-width="29.06"/>
<path d="M1428.0 440.3C1426.8 443.8 1424.0 455.3 1421.0 461.0C1418.0 466.7 1414.2 471.2 1409.7 474.6C1405.2 478.0 1399.4 480.8 1393.7 481.5C1388.0 482.2 1381.9 481.3 1375.4 479.0C1368.9 476.7 1361.3 472.4 1354.8 467.8C1348.3 463.2 1342.2 456.3 1336.5 451.7C1330.8 447.1 1325.8 443.5 1320.4 440.3C1315.1 437.1 1310.1 434.2 1304.4 432.3C1298.7 430.4 1292.9 429.8 1286.0 428.8C1279.1 427.9 1270.7 427.7 1263.0 426.6C1255.3 425.5 1247.6 424.1 1240.0 422.0C1232.4 419.9 1224.2 416.9 1217.4 414.0C1210.6 411.1 1205.5 407.3 1199.0 404.8C1192.5 402.3 1186.9 400.3 1178.5 399.0C1170.1 397.7 1159.5 397.0 1148.7 396.8C1138.0 396.6 1125.5 397.0 1114.0 398.0C1102.5 399.0 1089.8 402.1 1080.0 403.0C1070.2 403.9 1064.8 403.4 1055.0 403.5C1045.2 403.6 1030.4 402.8 1021.0 403.5C1011.6 404.2 1006.3 405.4 998.8 408.0C991.3 410.6 983.5 414.9 976.0 419.0C968.5 423.1 961.3 429.0 953.8 432.8C946.3 436.6 938.5 438.8 931.0 441.8C923.5 444.8 912.5 449.3 908.8 450.8" stroke-width="29.54"/>
<path d="M1421.0 461.0C1419.1 463.3 1414.2 471.2 1409.7 474.6C1405.2 478.0 1399.4 480.8 1393.7 481.5C1388.0 482.2 1381.9 481.3 1375.4 479.0C1368.9 476.7 1361.3 472.4 1354.8 467.8C1348.3 463.2 1342.2 456.3 1336.5 451.7C1330.8 447.1 1325.8 443.5 1320.4 440.3C1315.1 437.1 1310.1 434.2 1304.4 432.3C1298.7 430.4 1292.9 429.8 1286.0 428.8C1279.1 427.9 1270.7 427.7 1263.0 426.6C1255.3 425.5 1247.6 424.1 1240.0 422.0C1232.4 419.9 1224.2 416.9 1217.4 414.0C1210.6 411.1 1205.5 407.3 1199.0 404.8C1192.5 402.3 1186.9 400.3 1178.5 399.0C1170.1 397.7 1159.5 397.0 1148.7 396.8C1138.0 396.6 1125.5 397.0 1114.0 398.0C1102.5 399.0 1089.8 402.1 1080.0 403.0C1070.2 403.9 1064.8 403.4 1055.0 403.5C1045.2 403.6 1030.4 402.8 1021.0 403.5C1011.6 404.2 1006.3 405.4 998.8 408.0C991.3 410.6 983.5 414.9 976.0 419.0C968.5 423.1 961.3 429.0 953.8 432.8C946.3 436.6 934.8 440.3 931.0 441.8" stroke-width="30.03"/>
<path d="M1409.7 474.6C1407.0 475.8 1399.4 480.8 1393.7 481.5C1388.0 482.2 1381.9 481.3 1375.4 479.0C1368.9 476.7 1361.3 472.4 1354.8 467.8C1348.3 463.2 1342.2 456.3 1336.5 451.7C1330.8 447.1 1325.8 443.5 1320.4 440.3C1315.1 437.1 1310.1 434.2 1304.4 432.3C1298.7 430.4 1292.9 429.8 1286.0 428.8C1279.1 427.9 1270.7 427.7 1263.0 426.6C1255.3 425.5 1247.6 424.1 1240.0 422.0C1232.4 419.9 1224.2 416.9 1217.4 414.0C1210.6 411.1 1205.5 407.3 1199.0 404.8C1192.5 402.3 1186.9 400.3 1178.5 399.0C1170.1 397.7 1159.5 397.0 1148.7 396.8C1138.0 396.6 1125.5 397.0 1114.0 398.0C1102.5 399.0 1089.8 402.1 1080.0 403.0C1070.2 403.9 1064.8 403.4 1055.0 403.5C1045.2 403.6 1030.4 402.8 1021.0 403.5C1011.6 404.2 1006.3 405.4 998.8 408.0C991.3 410.6 983.5 414.9 976.0 419.0C968.5 423.1 957.5 430.5 953.8 432.8" stroke-width="30.51"/>
<path d="M1393.7 481.5C1390.7 481.1 1381.9 481.3 1375.4 479.0C1368.9 476.7 1361.3 472.4 1354.8 467.8C1348.3 463.2 1342.2 456.3 1336.5 451.7C1330.8 447.1 1325.8 443.5 1320.4 440.3C1315.1 437.1 1310.1 434.2 1304.4 432.3C1298.7 430.4 1292.9 429.8 1286.0 428.8C1279.1 427.9 1270.7 427.7 1263.0 426.6C1255.3 425.5 1247.6 424.1 1240.0 422.0C1232.4 419.9 1224.2 416.9 1217.4 414.0C1210.6 411.1 1205.5 407.3 1199.0 404.8C1192.5 402.3 1186.9 400.3 1178.5 399.0C1170.1 397.7 1159.5 397.0 1148.7 396.8C1138.0 396.6 1125.5 397.0 1114.0 398.0C1102.5 399.0 1089.8 402.1 1080.0 403.0C1070.2 403.9 1064.8 403.4 1055.0 403.5C1045.2 403.6 1030.4 402.8 1021.0 403.5C1011.6 404.2 1006.3 405.4 998.8 408.0C991.3 410.6 979.8 417.2 976.0 419.0" stroke-width="31.00"/>
</g>
<path d="M834.5 405.8C834.9 401.0 836.0 395.6 839.0 390.0C842.0 384.4 847.2 378.4 852.5 372.0C857.8 365.6 865.2 359.3 870.5 351.8C875.8 344.3 879.5 334.5 884.0 327.0C888.5 319.5 892.5 311.8 897.5 306.8C902.5 301.8 907.8 300.6 914.0 297.0C920.2 293.4 927.4 288.2 934.6 285.5C941.9 282.8 949.9 282.5 957.5 281.0C965.1 279.5 972.8 278.6 980.4 276.3C988.0 274.0 995.4 270.2 1003.0 267.0C1010.6 263.8 1018.3 259.3 1026.0 256.9C1033.7 254.4 1041.3 252.9 1049.0 252.3C1056.7 251.7 1063.0 252.1 1072.0 253.4C1081.0 254.7 1094.0 258.7 1103.0 260.0C1112.0 261.3 1117.5 261.7 1125.8 261.4C1134.1 261.1 1144.6 258.4 1153.0 258.0C1161.4 257.6 1168.3 257.5 1176.0 259.0C1183.7 260.5 1191.3 263.3 1199.0 267.0C1206.7 270.7 1214.3 276.8 1222.0 281.0C1229.7 285.2 1237.4 289.6 1245.0 292.4C1252.6 295.2 1260.2 296.3 1267.8 298.0C1275.4 299.7 1283.8 300.2 1290.7 302.7C1297.6 305.2 1303.0 308.6 1309.0 313.0C1315.0 317.4 1321.7 323.8 1327.0 329.0C1332.3 334.2 1336.4 339.2 1341.0 344.0C1345.6 348.8 1351.5 353.3 1354.8 357.9C1358.0 362.5 1359.5 367.0 1360.5 371.6C1361.5 376.2 1361.7 380.9 1360.5 385.3C1359.3 389.7 1356.5 395.1 1353.6 398.0C1350.7 400.9 1347.4 402.2 1343.0 402.5C1338.6 402.8 1332.7 401.1 1327.0 399.5C1321.3 397.9 1315.8 395.4 1309.0 393.0C1302.2 390.6 1293.7 387.4 1286.0 385.0C1278.3 382.6 1270.7 380.4 1263.0 378.5C1255.3 376.6 1248.8 375.3 1240.0 373.5C1231.2 371.7 1220.0 369.8 1210.0 367.5C1200.0 365.2 1190.0 362.8 1180.0 360.0C1170.0 357.2 1160.0 352.9 1150.0 351.0C1140.0 349.1 1135.0 348.6 1120.0 348.8C1105.0 348.9 1076.5 350.7 1060.0 351.8C1043.5 352.8 1031.2 353.7 1021.0 355.0C1010.8 356.3 1005.9 357.1 998.8 359.6C991.7 362.1 984.9 365.9 978.5 369.8C972.1 373.7 966.5 378.9 960.5 383.0C954.5 387.1 948.5 391.5 942.5 394.5C936.5 397.5 931.2 398.4 924.5 401.0C917.8 403.6 909.5 406.6 902.0 410.0C894.5 413.4 886.7 418.5 879.5 421.5C872.3 424.5 864.6 427.1 859.0 428.0C853.4 428.9 849.5 428.5 845.8 427.0C842.1 425.5 838.7 422.5 836.8 419.0C834.9 415.5 834.1 410.6 834.5 405.8Z" fill="#ac8fbb"/>
<g clip-path="url(#medClip)" fill="none" stroke="#b56fbd">
<path d="M834.5 405.8C834.9 401.0 836.0 395.6 839.0 390.0C842.0 384.4 847.2 378.4 852.5 372.0C857.8 365.6 865.2 359.3 870.5 351.8C875.8 344.3 879.5 334.5 884.0 327.0C888.5 319.5 892.5 311.8 897.5 306.8C902.5 301.8 907.8 300.6 914.0 297.0C920.2 293.4 927.4 288.2 934.6 285.5C941.9 282.8 949.9 282.5 957.5 281.0C965.1 279.5 972.8 278.6 980.4 276.3C988.0 274.0 995.4 270.2 1003.0 267.0C1010.6 263.8 1018.3 259.3 1026.0 256.9C1033.7 254.4 1041.3 252.9 1049.0 252.3C1056.7 251.7 1063.0 252.1 1072.0 253.4C1081.0 254.7 1094.0 258.7 1103.0 260.0C1112.0 261.3 1117.5 261.7 1125.8 261.4C1134.1 261.1 1144.6 258.4 1153.0 258.0C1161.4 257.6 1168.3 257.5 1176.0 259.0C1183.7 260.5 1191.3 263.3 1199.0 267.0C1206.7 270.7 1214.3 276.8 1222.0 281.0C1229.7 285.2 1237.4 289.6 1245.0 292.4C1252.6 295.2 1260.2 296.3 1267.8 298.0C1275.4 299.7 1283.8 300.2 1290.7 302.7C1297.6 305.2 1303.0 308.6 1309.0 313.0C1315.0 317.4 1321.7 323.8 1327.0 329.0C1332.3 334.2 1336.4 339.2 1341.0 344.0C1345.6 348.8 1351.5 353.3 1354.8 357.9C1358.0 362.5 1359.5 367.0 1360.5 371.6C1361.5 376.2 1361.7 380.9 1360.5 385.3C1359.3 389.7 1356.5 395.1 1353.6 398.0C1350.7 400.9 1347.4 402.2 1343.0 402.5C1338.6 402.8 1332.7 401.1 1327.0 399.5C1321.3 397.9 1315.8 395.4 1309.0 393.0C1302.2 390.6 1293.7 387.4 1286.0 385.0C1278.3 382.6 1270.7 380.4 1263.0 378.5C1255.3 376.6 1248.8 375.3 1240.0 373.5C1231.2 371.7 1220.0 369.8 1210.0 367.5C1200.0 365.2 1190.0 362.8 1180.0 360.0C1170.0 357.2 1160.0 352.9 1150.0 351.0C1140.0 349.1 1135.0 348.6 1120.0 348.8C1105.0 348.9 1076.5 350.7 1060.0 351.8C1043.5 352.8 1031.2 353.7 1021.0 355.0C1010.8 356.3 1005.9 357.1 998.8 359.6C991.7 362.1 984.9 365.9 978.5 369.8C972.1 373.7 966.5 378.9 960.5 383.0C954.5 387.1 948.5 391.5 942.5 394.5C936.5 397.5 931.2 398.4 924.5 401.0C917.8 403.6 909.5 406.6 902.0 410.0C894.5 413.4 886.7 418.5 879.5 421.5C872.3 424.5 864.6 427.1 859.0 428.0C853.4 428.9 849.5 428.5 845.8 427.0C842.1 425.5 838.7 422.5 836.8 419.0C834.9 415.5 834.1 410.6 834.5 405.8Z" stroke-width="26"/>
<path d="M1360.5 371.6C1360.5 373.9 1361.7 380.9 1360.5 385.3C1359.3 389.7 1356.5 395.1 1353.6 398.0C1350.7 400.9 1347.4 402.2 1343.0 402.5C1338.6 402.8 1332.7 401.1 1327.0 399.5C1321.3 397.9 1315.8 395.4 1309.0 393.0C1302.2 390.6 1293.7 387.4 1286.0 385.0C1278.3 382.6 1270.7 380.4 1263.0 378.5C1255.3 376.6 1248.8 375.3 1240.0 373.5C1231.2 371.7 1220.0 369.8 1210.0 367.5C1200.0 365.2 1190.0 362.8 1180.0 360.0C1170.0 357.2 1160.0 352.9 1150.0 351.0C1140.0 349.1 1135.0 348.6 1120.0 348.8C1105.0 348.9 1076.5 350.7 1060.0 351.8C1043.5 352.8 1031.2 353.7 1021.0 355.0C1010.8 356.3 1005.9 357.1 998.8 359.6C991.7 362.1 984.9 365.9 978.5 369.8C972.1 373.7 966.5 378.9 960.5 383.0C954.5 387.1 948.5 391.5 942.5 394.5C936.5 397.5 931.2 398.4 924.5 401.0C917.8 403.6 909.5 406.6 902.0 410.0C894.5 413.4 886.7 418.5 879.5 421.5C872.3 424.5 864.6 427.1 859.0 428.0C853.4 428.9 848.0 427.2 845.8 427.0" stroke-width="26.69"/>
<path d="M1360.5 385.3C1359.3 387.4 1356.5 395.1 1353.6 398.0C1350.7 400.9 1347.4 402.2 1343.0 402.5C1338.6 402.8 1332.7 401.1 1327.0 399.5C1321.3 397.9 1315.8 395.4 1309.0 393.0C1302.2 390.6 1293.7 387.4 1286.0 385.0C1278.3 382.6 1270.7 380.4 1263.0 378.5C1255.3 376.6 1248.8 375.3 1240.0 373.5C1231.2 371.7 1220.0 369.8 1210.0 367.5C1200.0 365.2 1190.0 362.8 1180.0 360.0C1170.0 357.2 1160.0 352.9 1150.0 351.0C1140.0 349.1 1135.0 348.6 1120.0 348.8C1105.0 348.9 1076.5 350.7 1060.0 351.8C1043.5 352.8 1031.2 353.7 1021.0 355.0C1010.8 356.3 1005.9 357.1 998.8 359.6C991.7 362.1 984.9 365.9 978.5 369.8C972.1 373.7 966.5 378.9 960.5 383.0C954.5 387.1 948.5 391.5 942.5 394.5C936.5 397.5 931.2 398.4 924.5 401.0C917.8 403.6 909.5 406.6 902.0 410.0C894.5 413.4 886.7 418.5 879.5 421.5C872.3 424.5 862.4 426.9 859.0 428.0" stroke-width="27.38"/>
<path d="M1353.6 398.0C1351.8 398.8 1347.4 402.2 1343.0 402.5C1338.6 402.8 1332.7 401.1 1327.0 399.5C1321.3 397.9 1315.8 395.4 1309.0 393.0C1302.2 390.6 1293.7 387.4 1286.0 385.0C1278.3 382.6 1270.7 380.4 1263.0 378.5C1255.3 376.6 1248.8 375.3 1240.0 373.5C1231.2 371.7 1220.0 369.8 1210.0 367.5C1200.0 365.2 1190.0 362.8 1180.0 360.0C1170.0 357.2 1160.0 352.9 1150.0 351.0C1140.0 349.1 1135.0 348.6 1120.0 348.8C1105.0 348.9 1076.5 350.7 1060.0 351.8C1043.5 352.8 1031.2 353.7 1021.0 355.0C1010.8 356.3 1005.9 357.1 998.8 359.6C991.7 362.1 984.9 365.9 978.5 369.8C972.1 373.7 966.5 378.9 960.5 383.0C954.5 387.1 948.5 391.5 942.5 394.5C936.5 397.5 931.2 398.4 924.5 401.0C917.8 403.6 909.5 406.6 902.0 410.0C894.5 413.4 883.2 419.6 879.5 421.5" stroke-width="28.06"/>
<path d="M1343.0 402.5C1340.3 402.0 1332.7 401.1 1327.0 399.5C1321.3 397.9 1315.8 395.4 1309.0 393.0C1302.2 390.6 1293.7 387.4 1286.0 385.0C1278.3 382.6 1270.7 380.4 1263.0 378.5C1255.3 376.6 1248.8 375.3 1240.0 373.5C1231.2 371.7 1220.0 369.8 1210.0 367.5C1200.0 365.2 1190.0 362.8 1180.0 360.0C1170.0 357.2 1160.0 352.9 1150.0 351.0C1140.0 349.1 1135.0 348.6 1120.0 348.8C1105.0 348.9 1076.5 350.7 1060.0 351.8C1043.5 352.8 1031.2 353.7 1021.0 355.0C1010.8 356.3 1005.9 357.1 998.8 359.6C991.7 362.1 984.9 365.9 978.5 369.8C972.1 373.7 966.5 378.9 960.5 383.0C954.5 387.1 948.5 391.5 942.5 394.5C936.5 397.5 931.2 398.4 924.5 401.0C917.8 403.6 905.8 408.5 902.0 410.0" stroke-width="28.75"/>
<path d="M1327.0 399.5C1324.0 398.4 1315.8 395.4 1309.0 393.0C1302.2 390.6 1293.7 387.4 1286.0 385.0C1278.3 382.6 1270.7 380.4 1263.0 378.5C1255.3 376.6 1248.8 375.3 1240.0 373.5C1231.2 371.7 1220.0 369.8 1210.0 367.5C1200.0 365.2 1190.0 362.8 1180.0 360.0C1170.0 357.2 1160.0 352.9 1150.0 351.0C1140.0 349.1 1135.0 348.6 1120.0 348.8C1105.0 348.9 1076.5 350.7 1060.0 351.8C1043.5 352.8 1031.2 353.7 1021.0 355.0C1010.8 356.3 1005.9 357.1 998.8 359.6C991.7 362.1 984.9 365.9 978.5 369.8C972.1 373.7 966.5 378.9 960.5 383.0C954.5 387.1 948.5 391.5 942.5 394.5C936.5 397.5 927.5 399.9 924.5 401.0" stroke-width="29.44"/>
<path d="M1309.0 393.0C1305.2 391.7 1293.7 387.4 1286.0 385.0C1278.3 382.6 1270.7 380.4 1263.0 378.5C1255.3 376.6 1248.8 375.3 1240.0 373.5C1231.2 371.7 1220.0 369.8 1210.0 367.5C1200.0 365.2 1190.0 362.8 1180.0 360.0C1170.0 357.2 1160.0 352.9 1150.0 351.0C1140.0 349.1 1135.0 348.6 1120.0 348.8C1105.0 348.9 1076.5 350.7 1060.0 351.8C1043.5 352.8 1031.2 353.7 1021.0 355.0C1010.8 356.3 1005.9 357.1 998.8 359.6C991.7 362.1 984.9 365.9 978.5 369.8C972.1 373.7 966.5 378.9 960.5 383.0C954.5 387.1 945.5 392.6 942.5 394.5" stroke-width="30.12"/>
<path d="M1286.0 385.0C1282.2 383.9 1270.7 380.4 1263.0 378.5C1255.3 376.6 1248.8 375.3 1240.0 373.5C1231.2 371.7 1220.0 369.8 1210.0 367.5C1200.0 365.2 1190.0 362.8 1180.0 360.0C1170.0 357.2 1160.0 352.9 1150.0 351.0C1140.0 349.1 1135.0 348.6 1120.0 348.8C1105.0 348.9 1076.5 350.7 1060.0 351.8C1043.5 352.8 1031.2 353.7 1021.0 355.0C1010.8 356.3 1005.9 357.1 998.8 359.6C991.7 362.1 984.9 365.9 978.5 369.8C972.1 373.7 963.5 380.8 960.5 383.0" stroke-width="30.81"/>
<path d="M1263.0 378.5C1259.2 377.7 1248.8 375.3 1240.0 373.5C1231.2 371.7 1220.0 369.8 1210.0 367.5C1200.0 365.2 1190.0 362.8 1180.0 360.0C1170.0 357.2 1160.0 352.9 1150.0 351.0C1140.0 349.1 1135.0 348.6 1120.0 348.8C1105.0 348.9 1076.5 350.7 1060.0 351.8C1043.5 352.8 1031.2 353.7 1021.0 355.0C1010.8 356.3 1005.9 357.1 998.8 359.6C991.7 362.1 981.9 368.1 978.5 369.8" stroke-width="31.50"/>
</g>
<defs><clipPath id="panClip"><path d="M719.6 654.0C728.2 650.2 757.3 636.7 771.0 631.0C784.7 625.3 790.1 624.1 802.0 620.0C813.9 615.9 827.0 610.8 842.5 606.5C858.0 602.2 877.4 597.8 895.0 594.4C912.6 591.0 930.6 588.4 948.4 586.4C966.2 584.4 988.6 583.0 1002.0 582.3C1015.4 581.6 1019.8 581.8 1028.6 582.0C1037.4 582.2 1045.6 583.2 1055.0 583.7C1064.4 584.2 1072.8 584.6 1085.0 584.8C1097.2 584.9 1112.2 584.1 1128.4 584.6C1144.6 585.1 1166.4 586.4 1182.0 587.7C1197.6 589.0 1208.2 590.5 1222.0 592.6C1235.8 594.7 1251.4 597.4 1265.0 600.4C1278.6 603.4 1289.1 605.8 1303.7 610.6C1318.3 615.4 1336.2 622.7 1352.4 629.0C1368.6 635.3 1386.3 642.3 1401.0 648.4C1415.7 654.5 1434.0 662.6 1440.6 665.4L1440.6 933.0 L719.6 933.0 Z"/></clipPath><filter id="panBlur" filterUnits="userSpaceOnUse" x="680" y="600" width="800" height="380"><feGaussianBlur stdDeviation="2.6"/></filter></defs>
<g clip-path="url(#panClip)">
<rect x="715" y="575" width="730" height="362" fill="#bb8fd2"/>
<path d="M719.6 669.5C725.5 667.2 744.6 660.1 755.0 656.0C765.4 651.9 772.9 648.3 781.8 644.7C790.7 641.1 799.6 637.7 808.5 634.2C817.4 630.7 820.9 628.1 835.3 623.8C849.7 619.5 876.1 612.2 895.0 608.5C913.9 604.8 930.6 603.4 948.4 601.7C966.2 600.0 986.4 599.1 1002.0 598.4C1017.6 597.7 1028.2 597.4 1042.0 597.7C1055.8 598.0 1070.6 599.5 1085.0 600.0C1099.4 600.5 1112.2 600.2 1128.4 601.0C1144.6 601.8 1166.4 603.5 1182.0 605.0C1197.6 606.5 1208.2 608.1 1222.0 609.9C1235.8 611.7 1251.4 612.8 1265.0 615.6C1278.6 618.5 1289.1 622.3 1303.7 627.0C1318.3 631.7 1336.2 637.6 1352.4 643.6C1368.6 649.6 1386.3 656.7 1401.0 662.9C1415.7 669.1 1434.0 677.6 1440.6 680.6L1440.6 935.0 L719.6 935.0 Z" fill="#e9a1b4"/>
<path d="M689.6 727.0C694.6 726.3 708.7 725.2 719.6 723.0C730.5 720.8 742.4 717.5 755.0 713.5C767.6 709.5 783.8 703.9 795.0 698.8C806.2 693.7 816.0 687.0 822.0 682.8C828.0 678.6 826.6 675.2 831.0 673.4C835.4 671.6 836.8 672.7 848.6 672.0C860.4 671.3 887.6 670.5 902.0 669.0C916.4 667.5 925.0 664.8 935.0 663.0C945.0 661.2 953.1 659.5 962.0 658.0C970.9 656.5 975.2 654.5 988.5 654.0C1001.8 653.5 1025.9 655.1 1042.0 655.0C1058.1 654.9 1070.7 653.2 1085.0 653.5C1099.3 653.8 1114.1 655.4 1128.0 657.0C1141.9 658.6 1155.1 661.3 1168.5 663.0C1181.9 664.7 1195.2 665.7 1208.6 667.0C1222.0 668.3 1237.0 668.7 1248.7 671.0C1260.4 673.3 1267.1 677.1 1279.0 680.9C1290.9 684.7 1307.8 690.3 1320.0 693.8C1332.2 697.3 1341.6 699.3 1352.4 702.0C1363.2 704.7 1374.0 706.8 1384.8 710.0C1395.6 713.2 1407.7 717.6 1417.0 721.4C1426.3 725.2 1431.7 729.5 1440.6 732.8C1449.5 736.1 1465.6 739.6 1470.6 741.0L1470.6 963.0 L689.6 963.0 Z" fill="#e2add7" filter="url(#panBlur)"/>
<path d="M719.6 874.8C723.3 873.9 732.5 871.3 741.7 869.5C750.9 867.7 763.9 866.2 775.0 864.0C786.1 861.8 796.2 858.4 808.5 856.0C820.8 853.6 836.4 851.6 848.6 849.4C860.9 847.2 873.4 844.7 882.0 842.8C890.6 840.9 891.2 839.8 900.0 838.0C908.8 836.2 922.5 833.2 935.0 832.0C947.5 830.8 961.7 831.6 975.0 830.7C988.3 829.8 1005.0 827.7 1015.0 826.7C1025.0 825.7 1028.3 824.7 1035.0 824.7C1041.7 824.7 1048.3 826.2 1055.0 826.7C1061.7 827.2 1067.2 826.9 1075.0 828.0C1082.8 829.1 1092.8 832.3 1101.7 833.4C1110.6 834.5 1115.0 834.2 1128.4 834.5C1141.8 834.8 1166.4 835.0 1182.0 835.4C1197.6 835.8 1212.0 835.9 1222.0 836.7C1232.0 837.5 1234.8 838.5 1242.0 840.0C1249.2 841.5 1258.4 844.3 1265.0 846.0C1271.6 847.7 1272.2 849.3 1281.7 850.0C1291.2 850.7 1308.4 849.8 1321.8 850.0C1335.2 850.2 1352.0 850.4 1362.0 851.4C1372.0 852.4 1375.3 854.1 1382.0 856.0C1388.7 857.9 1395.3 861.0 1402.0 862.8C1408.7 864.6 1415.6 865.7 1422.0 866.8C1428.4 867.9 1437.5 869.0 1440.6 869.5L1440.6 935.0 L719.6 935.0 Z" fill="#ae72a8"/>
<path d="M901.7 934.0C905.0 932.6 913.9 927.9 921.7 925.6C929.5 923.3 939.5 921.8 948.4 920.0C957.3 918.2 966.1 916.7 975.0 915.0C983.9 913.3 993.1 910.8 1002.0 909.6C1010.9 908.4 1019.8 907.9 1028.6 907.6C1037.4 907.3 1045.6 907.7 1055.0 908.0C1064.4 908.3 1077.2 909.2 1085.0 909.5C1092.8 909.8 1094.5 908.9 1101.7 909.6C1108.9 910.3 1119.5 912.3 1128.4 913.6C1137.3 914.9 1146.1 916.0 1155.0 917.6C1163.9 919.2 1173.1 921.4 1182.0 923.0C1190.9 924.6 1199.8 925.5 1208.6 927.0C1217.4 928.5 1229.4 930.8 1235.0 932.0C1240.6 933.2 1240.8 933.7 1242.0 934.0Z" fill="#c1a7e3"/>
<g fill="none" stroke="#ba8fd2" stroke-width="5.7" stroke-linecap="round" stroke-linejoin="round">
<path d="M719.7 727.0C721.4 726.8 726.7 726.8 729.7 725.6C732.7 724.4 735.9 722.0 737.7 720.0C739.5 718.0 740.0 714.6 740.4 713.5"/>
<path d="M719.2 775.0C719.2 780.8 719.4 799.2 719.5 810.0C719.6 820.8 719.4 832.8 719.9 840.0C720.4 847.2 721.2 849.4 722.3 853.4C723.4 857.4 725.2 860.4 726.4 864.0C727.6 867.6 729.2 869.9 729.7 874.8C730.2 879.7 729.6 887.0 729.7 893.5C729.8 900.0 730.1 906.9 730.4 913.6C730.7 920.4 731.5 930.6 731.7 934.0"/>
<path d="M732.4 660.0C732.4 663.3 732.0 673.8 732.4 680.0C732.8 686.2 733.8 691.9 735.0 697.5C736.2 703.1 737.7 708.1 739.7 713.5C741.7 718.9 744.7 724.5 747.0 729.6C749.3 734.7 751.7 739.2 753.7 744.3C755.7 749.4 757.0 754.0 759.0 760.0C761.0 766.0 763.8 773.3 765.5 780.0C767.2 786.7 767.8 794.4 769.0 800.0C770.2 805.6 771.5 807.8 772.5 813.4C773.5 819.0 774.6 826.7 775.0 833.4C775.4 840.1 775.1 846.7 775.0 853.4C774.9 860.1 774.5 866.8 774.5 873.5C774.5 880.2 774.7 886.8 775.0 893.5C775.3 900.2 776.0 906.9 776.5 913.6C777.0 920.4 777.6 930.6 777.8 934.0"/>
<path d="M779.0 643.0C778.3 645.0 775.4 651.0 775.0 654.7C774.6 658.4 774.9 661.6 776.5 665.4C778.1 669.2 782.3 673.5 784.5 677.5C786.7 681.5 789.0 685.8 789.8 689.5C790.5 693.2 789.3 696.4 789.0 700.0C788.7 703.6 787.5 706.4 787.8 710.9C788.1 715.4 789.5 721.4 791.0 727.0C792.5 732.6 794.9 738.8 796.5 744.3C798.1 749.8 799.2 754.0 800.5 760.0C801.8 766.0 803.4 773.3 804.5 780.0C805.6 786.7 806.1 794.4 807.0 800.0C807.9 805.6 809.0 807.8 809.9 813.4C810.8 819.0 811.6 826.7 812.5 833.4C813.4 840.1 814.8 847.4 815.0 853.4C815.2 859.4 814.6 864.6 813.9 869.5C813.2 874.4 812.1 878.8 811.0 882.8C809.9 886.8 807.9 890.0 807.0 893.5C806.1 897.0 805.6 900.4 805.9 904.0C806.1 907.6 806.7 911.2 808.5 915.0C810.3 918.8 814.5 923.8 816.5 927.0C818.5 930.2 819.8 932.8 820.5 934.0"/>
<path d="M838.0 620.0C838.2 622.2 838.1 628.9 839.3 633.4C840.5 637.9 843.3 642.7 845.3 646.7C847.3 650.7 850.3 654.0 851.3 657.4C852.3 660.8 852.4 663.7 851.3 666.8C850.2 669.9 846.8 674.0 844.6 676.0C842.4 678.0 838.9 677.2 838.0 678.8C837.1 680.4 837.8 682.8 839.3 685.5C840.8 688.2 845.3 690.1 847.3 694.8C849.3 699.5 850.2 707.0 851.3 713.5C852.4 720.0 853.1 725.9 854.0 733.6C854.9 741.4 856.2 748.9 856.6 760.0C857.0 771.1 856.6 790.0 856.6 800.0C856.6 810.0 856.4 813.3 856.6 820.0C856.8 826.7 857.1 834.0 858.0 840.0C858.9 846.0 861.0 850.7 862.0 856.0C863.0 861.3 864.0 867.1 864.0 872.0C864.0 876.9 863.0 881.0 862.0 885.5C861.0 890.0 858.7 894.9 858.0 898.9C857.3 902.9 857.3 906.1 858.0 909.6C858.7 913.1 860.7 915.9 862.0 920.0C863.3 924.1 865.3 931.7 866.0 934.0"/>
<path d="M902.0 606.0C901.8 608.3 900.8 615.8 900.5 620.0C900.2 624.2 901.1 627.0 900.5 631.0C899.9 635.0 897.8 639.8 897.0 644.0C896.2 648.2 895.1 652.0 895.5 656.0C895.9 660.0 898.0 664.7 899.4 668.0C900.8 671.3 903.0 672.6 904.0 676.0C905.0 679.4 905.9 684.3 905.7 688.6C905.5 692.9 903.7 697.6 903.0 702.0C902.3 706.4 901.5 708.7 901.7 715.0C901.9 721.3 903.1 730.8 904.0 740.0C904.9 749.2 906.3 760.0 907.0 770.0C907.7 780.0 908.5 791.7 908.4 800.0C908.3 808.3 907.1 813.3 906.4 820.0C905.7 826.7 904.4 834.0 904.4 840.0C904.4 846.0 905.3 851.1 906.4 856.0C907.5 860.9 909.6 864.4 911.0 869.5C912.4 874.6 914.1 881.8 915.0 886.9C915.9 892.0 916.7 895.5 916.4 900.0C916.1 904.5 913.5 909.1 913.0 913.6C912.5 918.1 913.1 923.6 913.7 927.0C914.3 930.4 916.0 932.8 916.4 934.0"/>
<path d="M929.0 603.0C929.5 605.2 930.2 612.2 931.7 616.4C933.2 620.6 936.1 624.6 937.8 628.4C939.5 632.2 941.0 635.4 941.8 639.0C942.6 642.6 942.6 646.2 942.4 649.8C942.2 653.4 941.0 657.0 940.4 660.5C939.8 664.0 939.4 667.4 939.0 671.0C938.6 674.6 937.8 678.4 937.8 682.0C937.8 685.6 938.1 688.2 939.0 692.6C939.9 697.0 942.2 704.9 943.0 708.6C943.8 712.3 943.5 704.8 943.8 715.0C944.1 725.2 944.6 755.8 945.0 770.0C945.4 784.2 946.2 791.7 946.4 800.0C946.6 808.3 946.3 813.3 946.4 820.0C946.5 826.7 946.0 834.4 947.0 840.0C948.0 845.6 950.5 848.9 952.5 853.4C954.5 857.9 957.7 862.4 959.0 866.8C960.3 871.2 960.9 875.5 960.5 880.0C960.1 884.5 957.6 889.0 956.5 893.5C955.4 898.0 954.2 902.6 953.8 907.0C953.3 911.4 953.8 915.5 953.8 920.0C953.8 924.5 953.8 931.7 953.8 934.0"/>
<path d="M967.0 599.0C967.1 601.7 967.1 610.1 967.8 615.0C968.5 619.9 969.5 624.4 971.0 628.4C972.5 632.4 975.0 635.4 976.5 639.0C978.0 642.6 979.1 646.0 979.8 649.8C980.5 653.6 980.7 657.7 980.5 661.9C980.3 666.1 979.3 670.5 978.5 675.0C977.7 679.5 976.4 684.1 975.8 688.6C975.2 693.1 974.9 697.6 975.0 702.0C975.1 706.4 975.7 710.0 976.5 715.0C977.3 720.0 978.4 725.8 980.0 732.0C981.6 738.2 984.8 744.0 986.0 752.0C987.2 760.0 987.2 772.0 987.0 780.0C986.8 788.0 985.2 793.3 984.5 800.0C983.8 806.7 983.2 813.3 983.0 820.0C982.8 826.7 982.3 834.4 983.0 840.0C983.7 845.6 985.7 848.5 987.0 853.4C988.3 858.3 990.3 863.9 991.0 869.5C991.7 875.1 991.4 881.1 991.0 886.9C990.6 892.6 989.8 898.9 988.5 904.0C987.2 909.1 984.3 912.6 983.0 917.6C981.7 922.6 980.9 931.3 980.5 934.0"/>
<path d="M1006.0 597.0C1006.4 598.9 1007.1 604.9 1008.6 608.4C1010.1 611.9 1013.4 614.5 1015.0 617.8C1016.6 621.1 1017.4 624.4 1018.0 628.4C1018.6 632.4 1018.6 637.4 1018.6 641.8C1018.6 646.2 1018.3 650.5 1018.0 655.0C1017.7 659.5 1016.7 664.0 1017.0 668.5C1017.3 673.0 1019.7 677.6 1020.0 682.0C1020.3 686.4 1019.8 689.5 1019.0 695.0C1018.2 700.5 1015.7 707.5 1015.0 715.0C1014.3 722.5 1014.8 730.8 1015.0 740.0C1015.2 749.2 1015.7 760.0 1016.0 770.0C1016.3 780.0 1016.8 791.7 1016.6 800.0C1016.4 808.3 1014.9 813.3 1014.6 820.0C1014.3 826.7 1014.3 834.0 1015.0 840.0C1015.7 846.0 1017.4 850.7 1019.0 856.0C1020.6 861.3 1023.6 866.9 1024.6 872.0C1025.6 877.1 1025.7 882.2 1025.0 886.9C1024.3 891.6 1022.0 895.5 1020.6 900.0C1019.2 904.5 1017.5 907.9 1016.6 913.6C1015.7 919.3 1015.3 930.6 1015.0 934.0"/>
<path d="M1051.0 597.0C1051.5 599.6 1053.7 607.2 1054.0 612.4C1054.3 617.6 1053.7 623.5 1053.0 628.4C1052.3 633.3 1051.7 638.0 1050.0 641.8C1048.3 645.6 1044.3 648.1 1043.0 651.0C1041.7 653.9 1041.3 656.1 1042.0 659.0C1042.7 661.9 1045.2 665.2 1047.0 668.5C1048.8 671.8 1051.5 675.4 1052.7 679.0C1053.9 682.6 1054.3 686.2 1054.0 690.0C1053.7 693.8 1051.9 697.8 1051.0 702.0C1050.1 706.2 1049.5 708.7 1048.7 715.0C1047.9 721.3 1046.5 730.8 1046.0 740.0C1045.5 749.2 1045.5 760.0 1046.0 770.0C1046.5 780.0 1047.9 792.8 1048.7 800.0C1049.5 807.2 1050.0 808.5 1051.0 813.4C1052.0 818.3 1053.4 824.3 1055.0 829.4C1056.6 834.5 1059.4 838.9 1060.7 844.0C1062.0 849.1 1063.0 854.9 1063.0 860.0C1063.0 865.1 1062.2 870.3 1060.7 874.8C1059.2 879.3 1056.0 882.7 1054.0 886.9C1052.0 891.1 1049.2 895.5 1048.7 900.0C1048.2 904.5 1049.7 909.1 1051.0 913.6C1052.3 918.1 1055.5 923.6 1056.7 927.0C1057.9 930.4 1057.8 932.8 1058.0 934.0"/>
<path d="M1091.7 598.0C1091.6 600.8 1091.5 609.9 1091.0 615.0C1090.5 620.1 1089.4 624.4 1089.0 628.4C1088.6 632.4 1088.0 635.4 1088.4 639.0C1088.9 642.6 1090.8 646.0 1091.7 649.8C1092.6 653.6 1093.6 657.7 1093.7 661.9C1093.8 666.1 1093.1 670.5 1092.4 675.0C1091.7 679.5 1090.3 684.1 1089.7 688.6C1089.1 693.1 1089.0 697.6 1089.0 702.0C1089.0 706.4 1089.9 708.7 1089.7 715.0C1089.5 721.3 1089.0 730.8 1088.0 740.0C1087.0 749.2 1085.0 760.0 1084.0 770.0C1083.0 780.0 1082.0 791.7 1081.7 800.0C1081.4 808.3 1081.5 814.0 1082.3 820.0C1083.1 826.0 1084.7 830.4 1086.4 836.0C1088.1 841.6 1090.5 847.8 1092.4 853.4C1094.3 859.0 1096.9 863.9 1097.7 869.5C1098.5 875.1 1097.8 881.3 1097.0 886.9C1096.2 892.5 1093.3 897.8 1093.0 902.9C1092.7 908.0 1093.9 912.4 1095.0 917.6C1096.1 922.8 1098.9 931.3 1099.7 934.0"/>
<path d="M1139.0 599.0C1138.5 601.7 1136.5 610.1 1135.8 615.0C1135.1 619.9 1134.9 623.9 1135.0 628.4C1135.1 632.9 1135.8 637.4 1136.5 641.8C1137.2 646.2 1138.3 650.5 1139.0 655.0C1139.7 659.5 1141.4 664.9 1140.5 668.5C1139.6 672.1 1135.9 673.4 1133.8 676.5C1131.7 679.6 1129.0 683.4 1127.8 687.0C1126.6 690.6 1126.3 693.3 1126.4 698.0C1126.5 702.7 1127.6 708.0 1128.4 715.0C1129.2 722.0 1130.4 730.8 1131.0 740.0C1131.6 749.2 1131.8 760.0 1132.0 770.0C1132.2 780.0 1132.8 791.7 1132.5 800.0C1132.2 808.3 1131.1 813.3 1130.5 820.0C1129.9 826.7 1128.9 834.0 1129.0 840.0C1129.1 846.0 1129.8 850.7 1131.0 856.0C1132.2 861.3 1134.7 866.9 1136.5 872.0C1138.3 877.1 1140.2 882.4 1141.8 886.9C1143.3 891.4 1145.8 894.7 1145.8 898.9C1145.8 903.1 1143.6 908.0 1141.8 912.0C1140.0 916.0 1136.5 919.3 1135.0 923.0C1133.5 926.7 1132.9 932.2 1132.5 934.0"/>
<path d="M1187.0 603.0C1186.3 605.0 1183.4 611.2 1183.0 615.0C1182.6 618.8 1183.4 622.0 1184.6 625.8C1185.8 629.6 1188.7 633.8 1190.0 637.8C1191.3 641.8 1192.4 645.8 1192.6 649.8C1192.8 653.8 1191.9 657.7 1191.0 661.9C1190.1 666.1 1188.2 670.5 1187.0 675.0C1185.8 679.5 1184.7 684.1 1184.0 688.6C1183.3 693.1 1183.0 697.6 1183.0 702.0C1183.0 706.4 1184.5 708.7 1184.0 715.0C1183.5 721.3 1181.7 730.8 1180.0 740.0C1178.3 749.2 1175.2 760.0 1174.0 770.0C1172.8 780.0 1172.8 791.7 1172.5 800.0C1172.2 808.3 1172.2 813.3 1172.5 820.0C1172.8 826.7 1173.3 833.3 1174.0 840.0C1174.7 846.7 1176.4 853.3 1176.6 860.0C1176.8 866.7 1175.9 874.0 1175.0 880.0C1174.1 886.0 1171.7 891.1 1171.0 896.0C1170.3 900.9 1170.3 905.1 1171.0 909.6C1171.7 914.1 1174.1 918.9 1175.0 923.0C1175.9 927.1 1176.3 932.2 1176.6 934.0"/>
<path d="M1240.0 609.0C1240.1 611.1 1239.8 617.7 1240.7 621.8C1241.6 625.9 1244.3 630.0 1245.4 633.8C1246.5 637.6 1248.2 641.0 1247.4 644.5C1246.6 648.0 1242.9 651.4 1240.7 655.0C1238.5 658.6 1235.2 661.9 1234.0 665.9C1232.8 669.9 1233.2 674.1 1233.3 679.0C1233.4 683.9 1234.6 689.0 1234.7 695.0C1234.8 701.0 1234.6 707.5 1234.0 715.0C1233.4 722.5 1231.8 730.8 1231.0 740.0C1230.2 749.2 1229.1 760.0 1229.5 770.0C1229.9 780.0 1233.0 792.8 1233.3 800.0C1233.6 807.2 1232.5 808.5 1231.3 813.4C1230.1 818.3 1227.8 823.8 1226.0 829.4C1224.2 835.0 1221.8 841.0 1220.6 846.8C1219.4 852.6 1218.4 858.5 1218.6 864.0C1218.8 869.5 1221.2 875.1 1222.0 880.0C1222.8 884.9 1224.0 889.0 1223.3 893.5C1222.6 898.0 1220.0 902.6 1218.0 907.0C1216.0 911.4 1213.0 915.5 1211.3 920.0C1209.6 924.5 1208.5 931.7 1208.0 934.0"/>
<path d="M1281.8 617.0C1281.7 620.1 1280.5 629.1 1281.0 635.4C1281.5 641.7 1284.7 649.5 1285.0 654.9C1285.3 660.3 1284.1 663.6 1282.6 667.9C1281.1 672.2 1276.9 676.3 1276.0 680.9C1275.1 685.5 1277.0 690.4 1277.0 695.5C1277.0 700.6 1276.8 706.3 1276.0 711.7C1275.2 717.1 1273.1 722.5 1272.0 727.9C1270.9 733.3 1270.1 738.6 1269.6 744.0C1269.1 749.4 1269.1 754.0 1268.8 760.0C1268.5 766.0 1268.2 773.3 1268.0 780.0C1267.8 786.7 1268.0 794.4 1267.7 800.0C1267.4 805.6 1267.1 808.5 1266.4 813.4C1265.7 818.3 1264.8 824.3 1263.7 829.4C1262.6 834.5 1260.7 839.6 1259.7 844.0C1258.7 848.4 1257.8 851.8 1257.7 856.0C1257.6 860.2 1258.6 865.0 1259.0 869.5C1259.4 874.0 1260.5 878.4 1260.3 882.8C1260.1 887.2 1258.9 892.0 1257.7 896.0C1256.5 900.0 1254.3 903.0 1253.0 907.0C1251.7 911.0 1250.5 915.5 1250.0 920.0C1249.5 924.5 1250.0 931.7 1250.0 934.0"/>
<path d="M1331.3 632.0C1330.8 635.3 1329.1 645.7 1328.0 651.7C1326.9 657.7 1325.6 663.0 1324.8 667.9C1324.0 672.8 1323.0 676.6 1323.0 680.9C1323.0 685.2 1325.0 689.5 1324.8 693.8C1324.5 698.1 1323.4 702.5 1321.5 706.8C1319.6 711.1 1315.2 714.9 1313.4 719.8C1311.7 724.7 1311.4 729.3 1311.0 736.0C1310.6 742.7 1311.2 752.7 1311.0 760.0C1310.8 767.3 1310.3 773.3 1310.0 780.0C1309.7 786.7 1309.3 793.3 1309.0 800.0C1308.7 806.7 1308.7 813.8 1308.4 820.0C1308.1 826.2 1307.9 832.3 1307.0 837.4C1306.1 842.5 1304.8 846.6 1303.0 850.8C1301.2 855.0 1298.0 858.8 1296.4 862.8C1294.9 866.8 1293.7 870.8 1293.7 874.8C1293.7 878.8 1295.3 882.7 1296.4 886.9C1297.5 891.1 1300.4 895.1 1300.4 900.0C1300.4 904.9 1298.2 911.5 1296.4 916.0C1294.6 920.5 1291.0 924.0 1289.7 927.0C1288.4 930.0 1288.6 932.8 1288.4 934.0"/>
<path d="M1363.7 644.0C1363.2 647.2 1361.6 657.2 1360.5 663.0C1359.4 668.8 1358.0 673.6 1357.0 679.0C1356.0 684.4 1355.6 690.0 1354.8 695.5C1354.0 701.0 1353.4 706.3 1352.4 711.7C1351.4 717.1 1350.0 722.5 1349.0 727.9C1348.0 733.3 1347.5 738.6 1346.7 744.0C1346.0 749.4 1345.4 754.0 1344.5 760.0C1343.6 766.0 1342.5 773.3 1341.5 780.0C1340.5 786.7 1339.3 793.3 1338.5 800.0C1337.7 806.7 1337.3 813.3 1336.5 820.0C1335.7 826.7 1334.6 834.0 1333.8 840.0C1333.0 846.0 1332.3 850.7 1331.8 856.0C1331.3 861.3 1331.3 867.1 1331.0 872.0C1330.7 876.9 1330.9 881.0 1329.8 885.5C1328.7 890.0 1326.0 894.6 1324.5 898.9C1323.0 903.1 1321.0 907.0 1320.5 911.0C1320.0 915.0 1321.8 919.2 1321.8 923.0C1321.8 926.8 1320.7 932.2 1320.5 934.0"/>
<path d="M1401.0 661.0C1400.9 663.5 1400.7 671.1 1400.2 676.0C1399.7 680.9 1399.3 685.5 1397.8 690.6C1396.3 695.7 1393.3 701.9 1391.3 706.8C1389.3 711.7 1386.7 715.5 1385.6 719.8C1384.5 724.1 1384.8 728.5 1384.8 732.8C1384.8 737.1 1385.9 741.3 1385.5 745.8C1385.1 750.3 1383.9 754.3 1382.5 760.0C1381.1 765.7 1378.8 773.3 1377.0 780.0C1375.2 786.7 1372.9 793.3 1371.5 800.0C1370.1 806.7 1369.5 813.3 1368.6 820.0C1367.7 826.7 1366.5 834.0 1365.9 840.0C1365.3 846.0 1365.2 850.7 1365.0 856.0C1364.8 861.3 1365.1 866.9 1365.0 872.0C1364.9 877.1 1365.3 882.0 1364.6 886.9C1363.9 891.8 1362.6 897.6 1360.6 901.6C1358.6 905.6 1354.5 907.9 1352.5 911.0C1350.5 914.1 1349.2 916.2 1348.5 920.0C1347.8 923.8 1348.5 931.7 1348.5 934.0"/>
<path d="M1430.2 675.0C1430.2 677.6 1431.3 685.8 1430.2 690.6C1429.1 695.4 1425.3 699.3 1423.7 703.6C1422.1 707.9 1420.8 712.3 1420.5 716.6C1420.2 720.9 1421.3 724.9 1422.0 729.5C1422.7 734.1 1424.7 738.9 1424.6 744.0C1424.5 749.1 1422.3 754.0 1421.5 760.0C1420.7 766.0 1420.2 773.3 1419.5 780.0C1418.8 786.7 1418.0 793.3 1417.3 800.0C1416.6 806.7 1416.3 813.3 1415.3 820.0C1414.3 826.7 1412.6 834.0 1411.3 840.0C1410.0 846.0 1408.6 850.7 1407.3 856.0C1406.0 861.3 1404.5 866.7 1403.3 872.0C1402.1 877.3 1400.8 882.7 1400.0 888.0C1399.2 893.3 1399.2 898.7 1398.6 904.0C1398.0 909.3 1397.6 915.0 1396.6 920.0C1395.6 925.0 1393.3 931.7 1392.6 934.0"/>
<path d="M1437.5 868.0C1437.4 868.7 1437.0 870.0 1436.7 872.0C1436.4 874.0 1436.1 876.0 1435.4 880.0C1434.7 884.0 1433.4 890.4 1432.7 896.0C1432.0 901.6 1432.3 907.3 1431.4 913.6C1430.5 919.9 1428.1 930.6 1427.4 934.0"/>
<path d="M733.7 680.0C736.2 680.8 743.0 683.5 748.4 684.8C753.8 686.0 759.4 687.2 765.8 687.5C772.2 687.8 783.5 686.9 787.0 686.8"/>
<path d="M738.4 706.0C740.7 705.2 748.5 703.4 752.4 701.5C756.3 699.6 759.6 697.0 761.8 694.8C764.0 692.5 765.1 689.1 765.8 688.0"/>
<path d="M780.5 648.7C782.9 649.4 790.3 651.7 795.0 652.7C799.7 653.7 804.7 653.5 808.5 654.7C812.3 655.9 815.0 657.3 817.9 660.0C820.8 662.7 824.1 668.1 826.0 670.8C827.9 673.5 828.0 675.1 829.5 676.0C831.0 676.9 833.5 676.0 835.3 676.3C837.0 676.6 839.2 677.7 840.0 678.0"/>
<path d="M829.0 678.0C828.7 679.5 828.2 683.8 827.0 686.8C825.8 689.8 824.7 693.7 822.0 696.0C819.3 698.3 815.0 700.1 811.0 700.8C807.0 701.5 801.2 700.5 797.8 700.0C794.4 699.5 791.7 698.3 790.5 698.0"/>
<path d="M843.3 641.4C845.3 641.7 852.0 642.3 855.3 643.4C858.6 644.5 861.1 646.6 863.3 648.0C865.5 649.4 867.8 651.3 868.7 652.0"/>
<path d="M902.0 631.5C901.6 631.6 901.8 631.2 899.4 632.0C897.0 632.8 891.4 634.4 887.4 636.0C883.4 637.6 878.4 638.7 875.3 641.4C872.2 644.1 869.4 649.1 868.7 652.0C868.0 654.9 869.8 656.2 871.3 658.7C872.8 661.2 875.1 664.8 878.0 666.8C880.9 668.8 885.2 670.0 888.7 670.8C892.2 671.6 897.3 671.3 899.0 671.4"/>
<path d="M900.3 647.0C902.1 648.1 907.0 651.8 911.0 653.8C915.0 655.8 919.9 657.9 924.4 659.0C928.9 660.1 935.6 660.2 937.8 660.5"/>
<path d="M937.8 626.4C939.6 627.0 944.9 628.8 948.4 629.8C951.9 630.8 955.4 632.0 959.0 632.5C962.6 633.0 967.5 632.2 969.8 632.5C972.1 632.8 972.5 633.8 973.0 634.0"/>
<path d="M941.0 677.9C942.7 677.0 948.0 675.2 951.0 672.5C954.0 669.8 956.3 664.6 959.0 661.9C961.7 659.2 964.1 657.6 967.0 656.5C969.9 655.4 974.9 655.2 976.5 655.0"/>
<path d="M977.8 639.0C979.6 638.5 984.5 636.8 988.5 635.8C992.5 634.8 997.9 633.3 1001.9 633.0C1005.9 632.7 1009.9 633.3 1012.6 633.8C1015.3 634.3 1017.1 635.6 1018.0 636.0"/>
<path d="M1016.0 613.7C1017.2 613.0 1020.2 611.0 1023.0 609.7C1025.8 608.4 1030.1 607.2 1032.6 605.7C1035.1 604.2 1036.8 602.0 1038.0 600.4C1039.2 598.8 1039.7 596.7 1040.0 596.0"/>
<path d="M1019.0 652.5C1020.6 651.4 1025.3 647.5 1028.6 645.8C1031.9 644.1 1035.7 643.2 1039.0 642.5C1042.3 641.8 1047.1 641.9 1048.7 641.8"/>
<path d="M1054.7 627.8C1056.6 628.6 1062.3 631.4 1066.0 632.5C1069.7 633.6 1072.9 634.1 1076.7 634.5C1080.5 634.9 1087.0 634.9 1089.0 635.0"/>
<path d="M1093.0 615.0C1094.5 615.9 1098.0 618.5 1101.7 620.4C1105.4 622.3 1110.5 625.1 1115.0 626.4C1119.5 627.7 1125.1 628.2 1128.4 628.4C1131.7 628.6 1133.9 627.9 1135.0 627.8"/>
<path d="M1093.7 657.8C1096.2 657.1 1103.7 654.8 1108.4 653.8C1113.1 652.8 1117.6 652.0 1121.8 651.8C1126.0 651.6 1131.1 652.3 1133.8 652.5C1136.5 652.7 1137.3 652.9 1138.0 653.0"/>
<path d="M1137.8 625.8C1139.8 626.9 1145.1 630.4 1149.8 632.5C1154.5 634.6 1161.0 637.2 1165.9 638.5C1170.8 639.8 1175.0 640.2 1179.0 640.5C1183.0 640.8 1186.2 640.3 1190.0 640.5C1193.8 640.7 1196.7 642.0 1202.0 641.8C1207.3 641.5 1216.5 640.0 1222.0 639.0C1227.5 638.0 1231.3 636.8 1235.0 635.8C1238.7 634.8 1242.5 633.5 1244.0 633.0"/>
<path d="M1140.5 670.0C1142.0 669.8 1146.7 669.9 1149.8 668.5C1152.9 667.1 1156.3 664.6 1159.0 661.9C1161.7 659.2 1163.9 655.9 1165.9 652.5C1167.9 649.1 1170.2 643.3 1171.0 641.5"/>
<path d="M1192.0 664.5C1193.7 665.4 1198.2 668.1 1202.0 669.9C1205.8 671.6 1210.5 673.7 1215.0 675.0C1219.5 676.3 1225.5 677.4 1228.7 677.9C1231.9 678.4 1233.1 678.0 1234.0 678.0"/>
<path d="M1248.7 644.5C1249.9 644.4 1253.0 644.7 1256.0 644.0C1259.0 643.3 1263.1 642.7 1267.0 640.5C1270.9 638.3 1277.2 632.2 1279.3 630.6"/>
<path d="M1240.7 657.8C1242.5 658.9 1247.4 661.6 1251.4 664.5C1255.4 667.4 1260.9 672.3 1264.7 675.0C1268.5 677.7 1272.9 679.9 1274.5 680.9"/>
<path d="M1286.6 664.6C1288.3 665.7 1293.1 669.4 1297.0 671.0C1300.9 672.6 1305.7 673.8 1310.0 674.4C1314.3 675.0 1320.8 674.4 1323.0 674.4"/>
<path d="M1327.0 665.5C1329.1 665.6 1335.7 665.6 1339.4 666.3C1343.1 667.0 1346.3 668.1 1349.0 669.5C1351.7 670.9 1354.3 673.0 1355.6 674.4C1356.9 675.8 1356.8 677.4 1357.0 678.0"/>
<path d="M1361.3 661.4C1363.3 661.5 1369.5 661.5 1373.4 662.2C1377.3 662.9 1381.5 663.9 1384.8 665.4C1388.1 666.9 1390.8 669.0 1393.0 671.0C1395.2 673.0 1397.0 676.5 1397.8 677.6"/>
<path d="M1355.6 697.9C1357.8 697.2 1364.3 694.6 1368.6 693.8C1372.9 693.0 1377.3 693.0 1381.6 693.0C1385.9 693.0 1392.3 693.7 1394.5 693.8"/>
<path d="M1401.8 685.7C1402.8 687.3 1405.7 692.0 1407.5 695.5C1409.3 699.0 1410.8 703.6 1412.4 706.8C1414.0 710.0 1416.0 713.2 1417.3 714.9C1418.6 716.6 1420.0 716.6 1420.5 717.0"/>
<path d="M1425.4 703.6C1426.8 703.6 1430.9 702.0 1433.5 703.6C1436.1 705.2 1439.8 711.7 1441.0 713.3"/>
<path d="M731.0 870.8C733.9 871.7 743.3 874.9 748.4 876.0C753.5 877.1 757.8 877.4 761.8 877.5C765.8 877.6 770.7 876.9 772.5 876.8"/>
<path d="M719.7 886.9C721.2 886.4 727.0 884.5 728.4 884.0"/>
<path d="M733.7 920.0C736.2 918.5 743.7 913.4 748.4 911.0C753.1 908.6 757.8 906.9 761.8 905.6C765.8 904.3 770.7 903.4 772.5 903.0"/>
<path d="M775.0 885.5C777.2 884.6 784.0 881.3 788.5 880.0C793.0 878.7 798.1 878.2 801.9 877.5C805.6 876.8 809.5 876.2 811.0 876.0"/>
<path d="M777.8 916.0C779.1 915.6 783.3 913.8 785.8 913.6C788.2 913.4 790.0 914.3 792.5 915.0C795.0 915.7 798.1 917.6 800.5 917.6C802.9 917.6 805.9 915.4 807.0 915.0"/>
<path d="M816.5 854.8C818.5 856.1 824.4 860.6 828.6 862.8C832.9 865.0 837.5 866.7 842.0 868.0C846.5 869.3 851.8 870.2 855.3 870.8C858.8 871.4 862.0 871.4 863.3 871.5"/>
<path d="M808.5 894.9C809.8 896.0 813.6 899.1 816.5 901.6C819.4 904.1 822.1 908.1 825.9 909.6C829.7 911.1 835.7 909.6 839.3 910.9C842.9 912.2 844.4 915.8 847.3 917.6C850.2 919.4 853.9 920.7 856.6 921.6C859.3 922.5 862.2 922.8 863.3 923.0"/>
<path d="M866.0 862.8C867.5 861.2 872.0 856.1 875.3 853.4C878.6 850.7 883.1 849.2 886.0 846.8C888.9 844.3 889.9 840.7 892.7 838.7C895.5 836.7 901.3 835.6 903.0 835.0"/>
<path d="M862.0 898.9C863.8 897.1 868.7 890.9 872.7 888.0C876.7 885.1 881.0 883.7 886.0 881.5C891.0 879.3 899.0 876.1 903.0 875.0C907.0 873.9 908.6 874.8 909.7 874.8"/>
<path d="M908.4 848.0C910.6 847.8 917.3 847.0 921.7 846.8C926.1 846.6 931.0 846.6 935.0 846.8C939.0 847.0 944.0 847.8 945.8 848.0"/>
<path d="M913.7 916.0C916.2 916.3 923.7 917.6 928.4 917.6C933.1 917.6 937.8 916.9 941.8 916.0C945.8 915.1 950.7 912.7 952.5 912.0"/>
<path d="M961.8 878.8C963.6 879.2 969.1 881.0 972.5 881.5C975.9 882.0 979.0 881.8 981.9 881.5C984.8 881.2 988.6 880.2 989.9 880.0"/>
<path d="M957.8 901.6C959.6 901.8 965.0 902.6 968.5 903.0C972.0 903.4 975.7 903.3 979.0 904.0C982.3 904.7 986.9 906.5 988.5 907.0"/>
<path d="M988.5 849.4C989.8 850.3 994.5 852.6 996.5 854.8C998.5 857.0 998.6 860.8 1000.6 862.8C1002.6 864.8 1005.7 865.5 1008.6 866.8C1011.5 868.1 1015.6 869.9 1018.0 870.8C1020.4 871.7 1022.2 871.8 1023.0 872.0"/>
<path d="M991.0 905.6C992.3 906.5 996.1 909.7 999.0 911.0C1001.9 912.3 1005.7 913.2 1008.6 913.6C1011.5 914.0 1015.3 913.6 1016.6 913.6"/>
<path d="M1016.6 836.0C1018.6 835.7 1024.4 834.3 1028.6 834.0C1032.8 833.7 1037.8 833.7 1042.0 834.0C1046.2 834.3 1051.3 835.3 1054.0 836.0C1056.7 836.7 1057.3 837.7 1058.0 838.0"/>
<path d="M1025.0 892.0C1026.7 892.2 1031.3 893.2 1035.0 893.5C1038.7 893.8 1044.3 893.8 1047.0 893.5C1049.7 893.2 1050.3 892.2 1051.0 892.0"/>
<path d="M1064.7 872.0C1066.2 871.3 1070.5 869.0 1074.0 868.0C1077.5 867.0 1082.0 866.7 1085.7 866.0C1089.4 865.3 1094.3 864.3 1096.0 864.0"/>
<path d="M1052.7 912.0C1054.4 911.8 1059.5 911.2 1063.0 911.0C1066.5 910.8 1070.2 911.0 1074.0 911.0C1077.8 911.0 1082.7 911.8 1085.7 911.0C1088.7 910.2 1091.0 906.8 1092.0 906.0"/>
<path d="M1089.7 840.0C1091.2 838.7 1095.5 834.1 1099.0 832.0C1102.5 829.9 1106.5 828.4 1111.0 827.4C1115.5 826.4 1122.6 826.1 1125.8 826.0C1129.0 825.9 1129.3 826.4 1130.0 826.5"/>
<path d="M1095.0 905.6C1097.2 905.8 1103.3 906.8 1108.4 907.0C1113.5 907.2 1120.7 907.0 1125.8 907.0C1130.9 907.0 1135.7 907.9 1139.0 907.0C1142.3 906.1 1144.7 902.5 1145.8 901.6"/>
<path d="M1129.8 844.0C1131.3 845.1 1135.2 848.8 1139.0 850.8C1142.8 852.8 1148.0 854.7 1152.5 856.0C1157.0 857.3 1162.2 858.2 1165.9 858.8C1169.7 859.4 1173.5 859.4 1175.0 859.5"/>
<path d="M1144.5 893.5C1145.8 894.6 1149.6 898.4 1152.5 900.0C1155.4 901.6 1158.8 902.4 1161.9 902.9C1165.0 903.4 1169.5 902.9 1171.0 902.9"/>
<path d="M1175.0 838.7C1176.8 840.1 1182.2 844.7 1186.0 846.8C1189.8 848.9 1194.2 850.4 1198.0 851.4C1201.8 852.4 1205.1 852.7 1208.6 852.8C1212.1 852.9 1217.3 852.1 1219.0 852.0"/>
<path d="M1174.0 917.6C1176.4 917.8 1183.9 919.3 1188.6 919.0C1193.3 918.7 1197.8 917.2 1202.0 916.0C1206.2 914.8 1212.0 912.7 1214.0 912.0"/>
<path d="M1228.7 834.7C1230.5 834.2 1235.9 833.1 1239.4 832.0C1243.0 830.9 1247.1 829.2 1250.0 828.0C1252.9 826.8 1254.8 825.2 1257.0 825.0C1259.2 824.8 1262.0 826.2 1263.0 826.5"/>
<path d="M1224.7 890.9C1226.0 890.0 1229.6 887.1 1232.7 885.5C1235.8 883.9 1239.6 882.4 1243.4 881.5C1247.2 880.6 1252.6 880.1 1255.4 880.0C1258.2 879.9 1259.2 880.8 1260.0 881.0"/>
<path d="M1260.3 850.8C1261.9 851.9 1266.1 855.8 1269.7 857.5C1273.3 859.2 1277.7 859.9 1281.7 860.8C1285.7 861.7 1291.7 862.5 1293.7 862.8"/>
<path d="M1255.0 905.0C1257.2 905.5 1264.0 907.0 1268.4 908.0C1272.9 909.0 1277.9 909.4 1281.7 911.0C1285.5 912.6 1289.1 916.1 1291.0 917.6C1292.9 919.1 1292.7 919.6 1293.0 920.0"/>
<path d="M1307.0 845.4C1308.3 845.2 1312.1 844.0 1315.0 844.0C1317.9 844.0 1321.8 844.7 1324.5 845.4C1327.2 846.1 1329.6 847.2 1331.0 848.0C1332.4 848.8 1332.7 849.7 1333.0 850.0"/>
<path d="M1299.0 892.0C1301.0 892.0 1307.2 892.2 1311.0 892.0C1314.8 891.8 1318.9 891.6 1321.8 890.9C1324.7 890.2 1327.4 888.5 1328.5 888.0"/>
<path d="M1333.8 866.8C1335.8 866.6 1342.1 865.7 1345.9 865.5C1349.7 865.3 1353.4 865.3 1356.5 865.5C1359.6 865.7 1363.2 866.6 1364.6 866.8"/>
<path d="M1327.0 898.9C1328.8 899.1 1334.2 899.8 1337.8 900.0C1341.4 900.2 1345.0 900.2 1348.5 900.0C1352.0 899.8 1356.3 900.0 1359.0 898.9C1361.7 897.8 1363.7 894.4 1364.6 893.5"/>
<path d="M1368.6 849.4C1370.2 850.8 1374.9 854.6 1378.0 857.5C1381.1 860.4 1384.2 863.7 1387.3 866.8C1390.4 869.9 1394.4 873.3 1396.6 876.0C1398.8 878.7 1399.9 881.7 1400.6 882.8"/>
<path d="M1362.0 904.0C1364.2 903.6 1370.6 902.3 1375.0 901.6C1379.4 900.9 1384.8 900.5 1388.6 900.0C1392.4 899.5 1396.4 899.1 1398.0 898.9"/>
<path d="M1408.7 861.5C1410.5 862.2 1416.1 864.2 1419.4 865.5C1422.7 866.8 1425.9 868.4 1428.7 869.5C1431.5 870.6 1435.2 871.6 1436.5 872.0"/>
<path d="M1402.0 888.0C1404.2 887.8 1410.8 886.9 1415.3 886.9C1419.8 886.9 1425.5 887.7 1428.7 888.0C1431.9 888.3 1433.5 888.8 1434.5 888.9"/>
</g>
</g>
<g stroke="#6e6f72" stroke-width="1.05" fill="none">
<line x1="814.4" y1="100.0" x2="963.3" y2="247.7"/>
<line x1="1242.8" y1="95.3" x2="1148.7" y2="299.0"/>
<line x1="1076.7" y1="553.0" x2="1076.7" y2="591.0"/>
<line x1="795.5" y1="586.0" x2="922.0" y2="638.0"/>
<line x1="679.0" y1="755.0" x2="873.8" y2="755.0"/>
<line x1="673.2" y1="882.6" x2="933.4" y2="882.6"/>
<line x1="1074.4" y1="925.0" x2="1074.4" y2="951.3"/>
</g>
<g font-size="27" fill="#5d5e61" stroke="#5d5e61" stroke-width="0.7" stroke-linejoin="round">
<text x="713.9" y="106.6" textLength="91.8" lengthAdjust="spacingAndGlyphs">Cortex</text>
<text x="1251.5" y="106.2" textLength="107.1" lengthAdjust="spacingAndGlyphs">Medulla</text>
<text x="1023.5" y="544.9" textLength="110.9" lengthAdjust="spacingAndGlyphs">Capsule</text>
<text x="664.5" y="568.0" textLength="70.2" lengthAdjust="spacingAndGlyphs">Zona</text>
<text x="614.0" y="594.4" textLength="171.7" lengthAdjust="spacingAndGlyphs">Glomerulosa</text>
<text x="549.5" y="735.8" textLength="70.6" lengthAdjust="spacingAndGlyphs">Zona</text>
<text x="505.0" y="763.0" textLength="157.7" lengthAdjust="spacingAndGlyphs">Fasciculata</text>
<text x="552.1" y="861.8" textLength="70.2" lengthAdjust="spacingAndGlyphs">Zona</text>
<text x="513.5" y="889.5" textLength="146.7" lengthAdjust="spacingAndGlyphs">Reticularis</text>
<text x="1018.3" y="982.8" textLength="106.8" lengthAdjust="spacingAndGlyphs">Medulla</text>
</g>
</svg>
</body>
</html>
